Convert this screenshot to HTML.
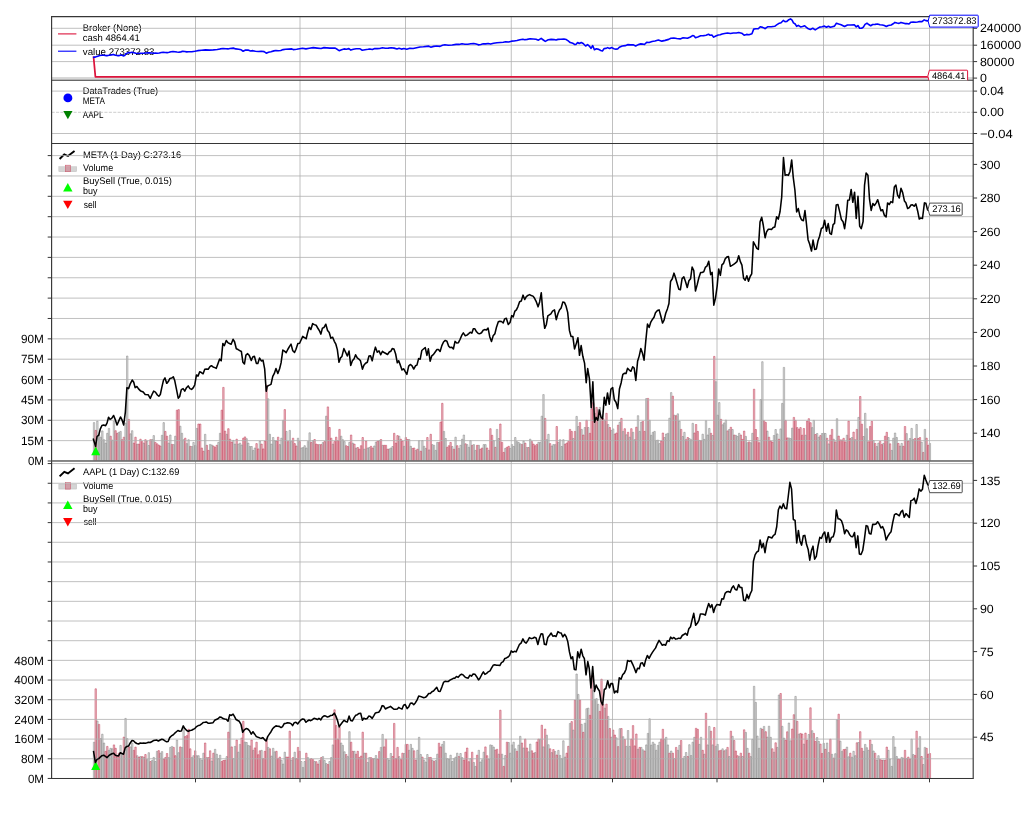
<!DOCTYPE html>
<html><head><meta charset="utf-8"><title>backtrader plot</title>
<style>html,body{margin:0;padding:0;background:#fff;width:1024px;height:819px;overflow:hidden}svg{will-change:transform}svg text{font-family:"Liberation Sans",sans-serif;text-rendering:geometricPrecision}</style></head>
<body>
<svg width="1024" height="819" viewBox="0 0 1024 819" style="display:block">
<rect width="1024" height="819" fill="#fff"/>
<defs>
<clipPath id="c0"><rect x="51.6" y="16.6" width="921.6" height="63.6"/></clipPath>
<clipPath id="c1"><rect x="51.6" y="80.2" width="921.6" height="63.3"/></clipPath>
<clipPath id="c2"><rect x="51.6" y="143.5" width="921.6" height="317.5"/></clipPath>
<clipPath id="c3"><rect x="51.6" y="461.0" width="921.6" height="317.45000000000005"/></clipPath>
</defs>
<g clip-path="url(#c2)">
<path d="M93.35 461.0V422.6H94.75V461.0ZM96.67 461.0V421.1H98.07V461.0ZM99.98 461.0V437.2H101.38V461.0ZM103.30 461.0V439.7H104.70V461.0ZM106.62 461.0V433.3H108.02V461.0ZM113.25 461.0V421.1H114.65V461.0ZM119.88 461.0V431.4H121.28V461.0ZM126.52 461.0V356.0H127.92V461.0ZM129.83 461.0V433.8H131.23V461.0ZM136.47 461.0V444.1H137.87V461.0ZM143.10 461.0V443.1H144.50V461.0ZM146.42 461.0V441.1H147.82V461.0ZM153.05 461.0V435.6H154.45V461.0ZM163.00 461.0V422.6H164.40V461.0ZM169.64 461.0V435.0H171.04V461.0ZM172.95 461.0V444.6H174.35V461.0ZM179.59 461.0V426.2H180.99V461.0ZM182.90 461.0V439.7H184.30V461.0ZM186.22 461.0V443.6H187.62V461.0ZM192.85 461.0V442.4H194.25V461.0ZM196.17 461.0V428.4H197.57V461.0ZM209.44 461.0V444.4H210.84V461.0ZM219.39 461.0V433.3H220.79V461.0ZM226.02 461.0V434.3H227.42V461.0ZM232.66 461.0V440.4H234.06V461.0ZM239.29 461.0V443.1H240.69V461.0ZM245.92 461.0V438.7H247.32V461.0ZM249.24 461.0V446.5H250.64V461.0ZM252.56 461.0V450.4H253.96V461.0ZM259.19 461.0V441.1H260.59V461.0ZM269.14 461.0V434.3H270.54V461.0ZM272.46 461.0V437.5H273.86V461.0ZM279.09 461.0V444.6H280.49V461.0ZM282.41 461.0V420.3H283.81V461.0ZM285.72 461.0V431.4H287.12V461.0ZM289.04 461.0V430.4H290.44V461.0ZM302.31 461.0V447.5H303.71V461.0ZM305.63 461.0V448.0H307.03V461.0ZM308.94 461.0V432.8H310.34V461.0ZM312.26 461.0V440.6H313.66V461.0ZM318.89 461.0V444.6H320.29V461.0ZM322.21 461.0V442.6H323.61V461.0ZM325.53 461.0V416.2H326.93V461.0ZM332.16 461.0V444.1H333.56V461.0ZM342.11 461.0V439.7H343.51V461.0ZM348.74 461.0V442.4H350.14V461.0ZM352.06 461.0V443.1H353.46V461.0ZM355.38 461.0V448.0H356.78V461.0ZM368.64 461.0V447.5H370.04V461.0ZM375.28 461.0V442.1H376.68V461.0ZM378.59 461.0V440.6H379.99V461.0ZM381.91 461.0V445.3H383.31V461.0ZM388.55 461.0V448.9H389.95V461.0ZM391.86 461.0V446.5H393.26V461.0ZM398.50 461.0V436.2H399.90V461.0ZM408.45 461.0V439.5H409.85V461.0ZM415.08 461.0V450.4H416.48V461.0ZM418.40 461.0V440.6H419.80V461.0ZM421.71 461.0V440.6H423.11V461.0ZM425.03 461.0V448.4H426.43V461.0ZM428.35 461.0V449.9H429.75V461.0ZM431.66 461.0V444.6H433.06V461.0ZM434.98 461.0V450.4H436.38V461.0ZM444.93 461.0V438.5H446.33V461.0ZM451.56 461.0V446.5H452.96V461.0ZM454.88 461.0V437.2H456.28V461.0ZM458.20 461.0V448.4H459.60V461.0ZM461.51 461.0V439.2H462.91V461.0ZM468.15 461.0V447.3H469.55V461.0ZM474.78 461.0V450.4H476.18V461.0ZM478.10 461.0V445.3H479.50V461.0ZM484.73 461.0V444.6H486.13V461.0ZM488.05 461.0V450.4H489.45V461.0ZM498.00 461.0V438.5H499.40V461.0ZM504.63 461.0V448.4H506.03V461.0ZM511.27 461.0V444.6H512.67V461.0ZM514.58 461.0V437.5H515.98V461.0ZM517.90 461.0V442.4H519.30V461.0ZM537.80 461.0V442.4H539.20V461.0ZM541.12 461.0V416.2H542.52V461.0ZM547.75 461.0V434.3H549.15V461.0ZM551.07 461.0V446.0H552.47V461.0ZM554.39 461.0V444.6H555.79V461.0ZM557.70 461.0V442.4H559.10V461.0ZM561.02 461.0V446.5H562.42V461.0ZM577.60 461.0V426.5H579.00V461.0ZM580.92 461.0V429.4H582.32V461.0ZM584.24 461.0V427.5H585.64V461.0ZM587.55 461.0V427.5H588.95V461.0ZM594.19 461.0V413.3H595.59V461.0ZM597.50 461.0V409.6H598.90V461.0ZM604.14 461.0V420.3H605.54V461.0ZM607.45 461.0V424.5H608.85V461.0ZM610.77 461.0V430.4H612.17V461.0ZM633.99 461.0V439.7H635.39V461.0ZM637.31 461.0V415.7H638.71V461.0ZM640.62 461.0V422.1H642.02V461.0ZM650.57 461.0V435.3H651.97V461.0ZM653.89 461.0V431.4H655.29V461.0ZM657.21 461.0V440.1H658.61V461.0ZM663.84 461.0V437.5H665.24V461.0ZM667.16 461.0V433.3H668.56V461.0ZM670.47 461.0V392.6H671.87V461.0ZM673.79 461.0V415.2H675.19V461.0ZM677.11 461.0V413.8H678.51V461.0ZM683.74 461.0V432.3H685.14V461.0ZM690.37 461.0V439.7H691.77V461.0ZM703.64 461.0V439.4H705.04V461.0ZM706.96 461.0V435.0H708.36V461.0ZM716.91 461.0V415.2H718.31V461.0ZM723.54 461.0V422.9H724.94V461.0ZM736.81 461.0V436.4H738.21V461.0ZM746.76 461.0V442.7H748.16V461.0ZM750.08 461.0V442.7H751.48V461.0ZM760.03 461.0V399.5H761.43V461.0ZM766.66 461.0V431.1H768.06V461.0ZM773.29 461.0V435.5H774.69V461.0ZM776.61 461.0V433.9H778.01V461.0ZM779.93 461.0V428.9H781.33V461.0ZM783.24 461.0V367.4H784.64V461.0ZM789.88 461.0V438.6H791.28V461.0ZM813.10 461.0V420.4H814.50V461.0ZM816.41 461.0V433.5H817.81V461.0ZM823.05 461.0V433.2H824.45V461.0ZM833.00 461.0V439.2H834.40V461.0ZM836.31 461.0V418.7H837.71V461.0ZM846.26 461.0V435.2H847.66V461.0ZM862.85 461.0V436.5H864.25V461.0ZM866.16 461.0V428.7H867.56V461.0ZM872.80 461.0V440.6H874.20V461.0ZM876.11 461.0V446.5H877.51V461.0ZM882.75 461.0V443.4H884.15V461.0ZM892.70 461.0V438.2H894.10V461.0ZM896.02 461.0V437.5H897.42V461.0ZM899.33 461.0V446.0H900.73V461.0ZM905.97 461.0V433.6H907.37V461.0ZM909.28 461.0V438.5H910.68V461.0ZM912.60 461.0V439.5H914.00V461.0ZM915.92 461.0V424.5H917.32V461.0ZM929.18 461.0V443.4H930.58V461.0Z" fill="#aaaaaa" fill-opacity="0.38" stroke="#858585" stroke-width="0.52" stroke-opacity="1"/>
<path d="M109.93 461.0V436.2H111.33V461.0ZM116.57 461.0V433.3H117.97V461.0ZM123.20 461.0V437.2H124.60V461.0ZM133.15 461.0V443.1H134.55V461.0ZM139.79 461.0V439.2H141.19V461.0ZM149.74 461.0V439.7H151.14V461.0ZM156.37 461.0V443.8H157.77V461.0ZM159.69 461.0V446.0H161.09V461.0ZM166.32 461.0V436.2H167.72V461.0ZM176.27 461.0V410.2H177.67V461.0ZM189.54 461.0V446.3H190.94V461.0ZM199.49 461.0V424.0H200.89V461.0ZM202.80 461.0V451.2H204.20V461.0ZM206.12 461.0V445.3H207.52V461.0ZM212.75 461.0V446.0H214.15V461.0ZM216.07 461.0V445.3H217.47V461.0ZM222.71 461.0V387.4H224.11V461.0ZM229.34 461.0V439.2H230.74V461.0ZM235.97 461.0V439.2H237.37V461.0ZM242.61 461.0V438.2H244.01V461.0ZM255.87 461.0V443.6H257.27V461.0ZM262.51 461.0V448.9H263.91V461.0ZM265.82 461.0V385.0H267.22V461.0ZM275.77 461.0V441.1H277.17V461.0ZM292.36 461.0V438.2H293.76V461.0ZM295.67 461.0V446.0H297.07V461.0ZM298.99 461.0V441.6H300.39V461.0ZM315.58 461.0V444.1H316.98V461.0ZM328.84 461.0V427.5H330.24V461.0ZM335.48 461.0V437.2H336.88V461.0ZM338.79 461.0V429.4H340.19V461.0ZM345.43 461.0V445.7H346.83V461.0ZM358.69 461.0V449.2H360.09V461.0ZM362.01 461.0V437.5H363.41V461.0ZM365.33 461.0V441.1H366.73V461.0ZM371.96 461.0V448.0H373.36V461.0ZM385.23 461.0V445.3H386.63V461.0ZM395.18 461.0V443.1H396.58V461.0ZM401.81 461.0V441.1H403.21V461.0ZM405.13 461.0V437.5H406.53V461.0ZM411.76 461.0V448.4H413.16V461.0ZM438.30 461.0V442.4H439.70V461.0ZM441.61 461.0V403.3H443.01V461.0ZM448.25 461.0V445.7H449.65V461.0ZM464.83 461.0V443.8H466.23V461.0ZM471.47 461.0V445.3H472.87V461.0ZM481.42 461.0V448.0H482.82V461.0ZM491.37 461.0V435.3H492.77V461.0ZM494.68 461.0V447.3H496.08V461.0ZM501.32 461.0V442.4H502.72V461.0ZM507.95 461.0V446.3H509.35V461.0ZM521.22 461.0V444.4H522.62V461.0ZM524.53 461.0V443.1H525.93V461.0ZM527.85 461.0V447.5H529.25V461.0ZM531.17 461.0V441.6H532.57V461.0ZM534.48 461.0V445.7H535.88V461.0ZM544.43 461.0V418.4H545.83V461.0ZM564.34 461.0V444.1H565.74V461.0ZM567.65 461.0V441.6H569.05V461.0ZM570.97 461.0V431.4H572.37V461.0ZM574.29 461.0V431.4H575.69V461.0ZM590.87 461.0V408.9H592.27V461.0ZM600.82 461.0V417.7H602.22V461.0ZM614.09 461.0V434.0H615.49V461.0ZM617.40 461.0V425.2H618.80V461.0ZM620.72 461.0V418.4H622.12V461.0ZM624.04 461.0V428.7H625.44V461.0ZM627.35 461.0V432.3H628.75V461.0ZM630.67 461.0V428.7H632.07V461.0ZM643.94 461.0V431.4H645.34V461.0ZM647.26 461.0V398.4H648.66V461.0ZM660.52 461.0V441.1H661.92V461.0ZM680.42 461.0V429.4H681.82V461.0ZM687.06 461.0V437.5H688.46V461.0ZM693.69 461.0V433.0H695.09V461.0ZM697.01 461.0V431.4H698.41V461.0ZM700.32 461.0V440.6H701.72V461.0ZM710.27 461.0V433.3H711.67V461.0ZM713.59 461.0V356.4H714.99V461.0ZM720.23 461.0V419.3H721.63V461.0ZM726.86 461.0V430.9H728.26V461.0ZM730.18 461.0V427.3H731.58V461.0ZM733.49 461.0V435.0H734.89V461.0ZM740.13 461.0V435.0H741.53V461.0ZM743.44 461.0V431.1H744.84V461.0ZM753.39 461.0V389.2H754.79V461.0ZM756.71 461.0V437.5H758.11V461.0ZM763.34 461.0V420.7H764.74V461.0ZM769.98 461.0V441.0H771.38V461.0ZM786.56 461.0V437.9H787.96V461.0ZM793.19 461.0V417.4H794.59V461.0ZM796.51 461.0V427.6H797.91V461.0ZM799.83 461.0V427.6H801.23V461.0ZM803.15 461.0V428.5H804.55V461.0ZM806.46 461.0V421.1H807.86V461.0ZM809.78 461.0V422.7H811.18V461.0ZM819.73 461.0V435.6H821.13V461.0ZM826.36 461.0V438.3H827.76V461.0ZM829.68 461.0V435.2H831.08V461.0ZM839.63 461.0V439.9H841.03V461.0ZM842.95 461.0V438.3H844.35V461.0ZM849.58 461.0V438.6H850.98V461.0ZM852.90 461.0V432.1H854.30V461.0ZM856.21 461.0V429.4H857.61V461.0ZM859.53 461.0V396.5H860.93V461.0ZM869.48 461.0V426.5H870.88V461.0ZM879.43 461.0V441.4H880.83V461.0ZM886.07 461.0V432.3H887.47V461.0ZM889.38 461.0V443.8H890.78V461.0ZM902.65 461.0V446.3H904.05V461.0ZM919.23 461.0V437.5H920.63V461.0ZM922.55 461.0V452.4H923.95V461.0ZM925.87 461.0V438.2H927.27V461.0Z" fill="#cc6073" fill-opacity="0.38" stroke="#c43e58" stroke-width="0.52" stroke-opacity="1"/>
<path d="M98.33 461.0V434.8H99.73V461.0ZM101.64 461.0V430.9H103.04V461.0ZM104.96 461.0V443.1H106.36V461.0ZM108.28 461.0V428.4H109.68V461.0ZM111.59 461.0V440.1H112.99V461.0ZM118.23 461.0V432.3H119.63V461.0ZM124.86 461.0V423.1H126.26V461.0ZM131.49 461.0V430.7H132.89V461.0ZM148.08 461.0V445.5H149.48V461.0ZM151.39 461.0V439.5H152.79V461.0ZM161.34 461.0V435.3H162.74V461.0ZM167.98 461.0V443.1H169.38V461.0ZM174.61 461.0V436.2H176.01V461.0ZM181.25 461.0V433.3H182.65V461.0ZM187.88 461.0V439.7H189.28V461.0ZM191.20 461.0V446.5H192.60V461.0ZM194.51 461.0V445.5H195.91V461.0ZM204.46 461.0V434.3H205.86V461.0ZM211.10 461.0V445.0H212.50V461.0ZM217.73 461.0V442.4H219.13V461.0ZM234.31 461.0V444.1H235.71V461.0ZM237.63 461.0V444.1H239.03V461.0ZM240.95 461.0V445.0H242.35V461.0ZM247.58 461.0V443.1H248.98V461.0ZM250.90 461.0V446.5H252.30V461.0ZM254.21 461.0V448.0H255.61V461.0ZM267.48 461.0V398.8H268.88V461.0ZM270.80 461.0V444.1H272.20V461.0ZM274.12 461.0V440.6H275.52V461.0ZM280.75 461.0V438.2H282.15V461.0ZM290.70 461.0V441.6H292.10V461.0ZM297.33 461.0V438.2H298.73V461.0ZM300.65 461.0V448.0H302.05V461.0ZM303.97 461.0V445.7H305.37V461.0ZM307.28 461.0V441.6H308.68V461.0ZM340.45 461.0V436.2H341.85V461.0ZM343.77 461.0V441.6H345.17V461.0ZM363.67 461.0V449.2H365.07V461.0ZM366.99 461.0V448.0H368.39V461.0ZM373.62 461.0V446.0H375.02V461.0ZM390.20 461.0V448.0H391.60V461.0ZM403.47 461.0V446.3H404.87V461.0ZM410.10 461.0V446.3H411.50V461.0ZM423.37 461.0V446.3H424.77V461.0ZM433.32 461.0V445.3H434.72V461.0ZM436.64 461.0V442.4H438.04V461.0ZM443.27 461.0V431.4H444.67V461.0ZM459.86 461.0V445.3H461.26V461.0ZM463.17 461.0V435.0H464.57V461.0ZM466.49 461.0V444.6H467.89V461.0ZM469.81 461.0V440.6H471.21V461.0ZM473.12 461.0V444.6H474.52V461.0ZM483.07 461.0V444.6H484.47V461.0ZM493.02 461.0V440.6H494.42V461.0ZM496.34 461.0V429.4H497.74V461.0ZM509.61 461.0V448.4H511.01V461.0ZM512.93 461.0V446.5H514.33V461.0ZM516.24 461.0V441.6H517.64V461.0ZM519.56 461.0V443.8H520.96V461.0ZM522.88 461.0V441.1H524.28V461.0ZM526.19 461.0V447.5H527.59V461.0ZM529.51 461.0V439.2H530.91V461.0ZM539.46 461.0V442.4H540.86V461.0ZM542.78 461.0V394.6H544.18V461.0ZM546.09 461.0V439.7H547.49V461.0ZM552.73 461.0V444.6H554.13V461.0ZM559.36 461.0V439.7H560.76V461.0ZM562.68 461.0V439.7H564.08V461.0ZM572.63 461.0V438.5H574.03V461.0ZM575.94 461.0V416.4H577.34V461.0ZM599.16 461.0V407.4H600.56V461.0ZM612.43 461.0V428.9H613.83V461.0ZM619.06 461.0V422.3H620.46V461.0ZM622.38 461.0V431.4H623.78V461.0ZM625.70 461.0V434.8H627.10V461.0ZM629.01 461.0V437.2H630.41V461.0ZM632.33 461.0V432.3H633.73V461.0ZM638.96 461.0V431.4H640.36V461.0ZM645.60 461.0V398.6H647.00V461.0ZM648.91 461.0V420.3H650.31V461.0ZM652.23 461.0V432.3H653.63V461.0ZM655.55 461.0V440.4H656.95V461.0ZM658.86 461.0V443.6H660.26V461.0ZM665.50 461.0V434.0H666.90V461.0ZM668.81 461.0V418.2H670.21V461.0ZM678.77 461.0V421.1H680.17V461.0ZM682.08 461.0V436.5H683.48V461.0ZM688.72 461.0V438.5H690.12V461.0ZM692.03 461.0V423.3H693.43V461.0ZM698.67 461.0V440.4H700.07V461.0ZM701.98 461.0V434.2H703.38V461.0ZM705.30 461.0V420.7H706.70V461.0ZM708.62 461.0V428.4H710.02V461.0ZM711.93 461.0V435.5H713.33V461.0ZM715.25 461.0V381.7H716.65V461.0ZM718.57 461.0V402.6H719.97V461.0ZM721.88 461.0V424.8H723.28V461.0ZM725.20 461.0V420.1H726.60V461.0ZM728.52 461.0V429.5H729.92V461.0ZM731.83 461.0V429.5H733.23V461.0ZM735.15 461.0V435.3H736.55V461.0ZM738.47 461.0V433.3H739.87V461.0ZM745.10 461.0V436.4H746.50V461.0ZM751.73 461.0V433.3H753.13V461.0ZM761.69 461.0V361.7H763.09V461.0ZM774.95 461.0V429.5H776.35V461.0ZM781.59 461.0V403.4H782.99V461.0ZM788.22 461.0V437.9H789.62V461.0ZM791.54 461.0V428.1H792.94V461.0ZM804.80 461.0V435.2H806.20V461.0ZM811.44 461.0V427.6H812.84V461.0ZM818.07 461.0V437.2H819.47V461.0ZM821.39 461.0V433.5H822.79V461.0ZM824.70 461.0V433.5H826.10V461.0ZM828.02 461.0V443.9H829.42V461.0ZM851.24 461.0V437.5H852.64V461.0ZM854.56 461.0V439.7H855.96V461.0ZM857.87 461.0V417.4H859.27V461.0ZM864.51 461.0V413.3H865.91V461.0ZM877.77 461.0V443.1H879.17V461.0ZM887.72 461.0V437.5H889.12V461.0ZM891.04 461.0V450.4H892.44V461.0ZM894.36 461.0V433.0H895.76V461.0ZM900.99 461.0V443.4H902.39V461.0ZM910.94 461.0V428.4H912.34V461.0ZM920.89 461.0V442.1H922.29V461.0ZM924.21 461.0V429.4H925.61V461.0Z" fill="#aaaaaa" fill-opacity="0.38" stroke="#858585" stroke-width="0.52" stroke-opacity="1"/>
<path d="M95.01 461.0V430.4H96.41V461.0ZM114.91 461.0V430.7H116.31V461.0ZM121.54 461.0V439.7H122.94V461.0ZM128.18 461.0V419.4H129.58V461.0ZM134.81 461.0V437.2H136.21V461.0ZM138.13 461.0V444.1H139.53V461.0ZM141.44 461.0V441.6H142.84V461.0ZM144.76 461.0V439.7H146.16V461.0ZM154.71 461.0V442.4H156.11V461.0ZM158.03 461.0V445.0H159.43V461.0ZM164.66 461.0V431.4H166.06V461.0ZM171.29 461.0V444.4H172.69V461.0ZM177.93 461.0V409.6H179.33V461.0ZM184.56 461.0V438.2H185.96V461.0ZM197.83 461.0V424.0H199.23V461.0ZM201.15 461.0V448.0H202.55V461.0ZM207.78 461.0V450.4H209.18V461.0ZM214.41 461.0V447.3H215.81V461.0ZM221.05 461.0V410.2H222.45V461.0ZM224.36 461.0V431.1H225.76V461.0ZM227.68 461.0V428.7H229.08V461.0ZM231.00 461.0V442.1H232.40V461.0ZM244.26 461.0V436.9H245.66V461.0ZM257.53 461.0V448.9H258.93V461.0ZM260.85 461.0V444.1H262.25V461.0ZM264.17 461.0V441.1H265.57V461.0ZM277.43 461.0V437.2H278.83V461.0ZM284.07 461.0V409.6H285.47V461.0ZM287.38 461.0V441.6H288.78V461.0ZM294.02 461.0V443.6H295.42V461.0ZM310.60 461.0V442.4H312.00V461.0ZM313.92 461.0V439.5H315.32V461.0ZM317.23 461.0V444.6H318.63V461.0ZM320.55 461.0V444.6H321.95V461.0ZM323.87 461.0V441.6H325.27V461.0ZM327.18 461.0V406.9H328.58V461.0ZM330.50 461.0V438.2H331.90V461.0ZM333.82 461.0V441.6H335.22V461.0ZM337.13 461.0V440.6H338.53V461.0ZM347.09 461.0V446.5H348.49V461.0ZM350.40 461.0V435.0H351.80V461.0ZM353.72 461.0V444.1H355.12V461.0ZM357.04 461.0V447.5H358.44V461.0ZM360.35 461.0V445.7H361.75V461.0ZM370.30 461.0V446.3H371.70V461.0ZM376.94 461.0V441.1H378.34V461.0ZM380.25 461.0V439.5H381.65V461.0ZM383.57 461.0V445.3H384.97V461.0ZM386.89 461.0V449.2H388.29V461.0ZM393.52 461.0V433.3H394.92V461.0ZM396.84 461.0V435.6H398.24V461.0ZM400.15 461.0V439.2H401.55V461.0ZM406.79 461.0V439.5H408.19V461.0ZM413.42 461.0V448.0H414.82V461.0ZM416.74 461.0V449.2H418.14V461.0ZM420.05 461.0V451.2H421.45V461.0ZM426.69 461.0V437.5H428.09V461.0ZM430.01 461.0V434.3H431.41V461.0ZM439.96 461.0V422.1H441.36V461.0ZM446.59 461.0V447.3H447.99V461.0ZM449.91 461.0V442.4H451.31V461.0ZM453.22 461.0V449.2H454.62V461.0ZM456.54 461.0V445.7H457.94V461.0ZM476.44 461.0V445.3H477.84V461.0ZM479.76 461.0V449.2H481.16V461.0ZM486.39 461.0V448.0H487.79V461.0ZM489.71 461.0V428.7H491.11V461.0ZM499.66 461.0V424.0H501.06V461.0ZM502.97 461.0V452.4H504.37V461.0ZM506.29 461.0V447.3H507.69V461.0ZM532.83 461.0V444.1H534.23V461.0ZM536.14 461.0V444.4H537.54V461.0ZM549.41 461.0V443.6H550.81V461.0ZM556.04 461.0V426.5H557.44V461.0ZM565.99 461.0V443.1H567.39V461.0ZM569.31 461.0V429.4H570.71V461.0ZM579.26 461.0V422.6H580.66V461.0ZM582.58 461.0V435.0H583.98V461.0ZM585.89 461.0V420.3H587.29V461.0ZM589.21 461.0V433.3H590.61V461.0ZM592.53 461.0V402.6H593.93V461.0ZM595.85 461.0V407.4H597.25V461.0ZM602.48 461.0V418.7H603.88V461.0ZM605.80 461.0V413.3H607.20V461.0ZM609.11 461.0V427.5H610.51V461.0ZM615.75 461.0V433.0H617.15V461.0ZM635.65 461.0V427.2H637.05V461.0ZM642.28 461.0V421.3H643.68V461.0ZM662.18 461.0V433.0H663.58V461.0ZM672.13 461.0V396.2H673.53V461.0ZM675.45 461.0V415.7H676.85V461.0ZM685.40 461.0V439.7H686.80V461.0ZM695.35 461.0V424.5H696.75V461.0ZM741.78 461.0V439.4H743.18V461.0ZM748.42 461.0V441.9H749.82V461.0ZM755.05 461.0V429.5H756.45V461.0ZM758.37 461.0V442.7H759.77V461.0ZM765.00 461.0V422.4H766.40V461.0ZM768.32 461.0V437.2H769.72V461.0ZM771.64 461.0V442.1H773.04V461.0ZM778.27 461.0V439.2H779.67V461.0ZM784.90 461.0V420.4H786.30V461.0ZM794.85 461.0V420.4H796.25V461.0ZM798.17 461.0V429.2H799.57V461.0ZM801.49 461.0V435.2H802.89V461.0ZM808.12 461.0V418.7H809.52V461.0ZM814.75 461.0V434.5H816.15V461.0ZM831.34 461.0V429.4H832.74V461.0ZM834.65 461.0V441.9H836.05V461.0ZM837.97 461.0V436.1H839.37V461.0ZM841.29 461.0V439.9H842.69V461.0ZM844.61 461.0V441.9H846.01V461.0ZM847.92 461.0V421.1H849.32V461.0ZM861.19 461.0V424.2H862.59V461.0ZM867.82 461.0V441.8H869.22V461.0ZM871.14 461.0V421.3H872.54V461.0ZM874.46 461.0V443.4H875.86V461.0ZM881.09 461.0V444.6H882.49V461.0ZM884.41 461.0V436.2H885.81V461.0ZM897.67 461.0V443.4H899.07V461.0ZM904.31 461.0V426.5H905.71V461.0ZM907.62 461.0V441.1H909.02V461.0ZM914.26 461.0V438.5H915.66V461.0ZM917.57 461.0V438.5H918.97V461.0ZM927.53 461.0V445.3H928.93V461.0Z" fill="#cc6073" fill-opacity="0.38" stroke="#c43e58" stroke-width="0.52" stroke-opacity="1"/>
</g>
<g clip-path="url(#c3)">
<path d="M93.35 778.45V742.2H94.75V778.45ZM96.67 778.45V721.0H98.07V778.45ZM99.98 778.45V738.6H101.38V778.45ZM103.30 778.45V743.0H104.70V778.45ZM109.93 778.45V748.3H111.33V778.45ZM119.88 778.45V745.4H121.28V778.45ZM126.52 778.45V738.6H127.92V778.45ZM129.83 778.45V746.9H131.23V778.45ZM136.47 778.45V755.7H137.87V778.45ZM139.79 778.45V756.6H141.19V778.45ZM143.10 778.45V757.1H144.50V778.45ZM146.42 778.45V759.6H147.82V778.45ZM153.05 778.45V757.4H154.45V778.45ZM156.37 778.45V751.3H157.77V778.45ZM159.69 778.45V753.2H161.09V778.45ZM169.64 778.45V747.4H171.04V778.45ZM176.27 778.45V740.0H177.67V778.45ZM182.90 778.45V728.3H184.30V778.45ZM192.85 778.45V755.7H194.25V778.45ZM196.17 778.45V755.7H197.57V778.45ZM199.49 778.45V758.6H200.89V778.45ZM202.80 778.45V753.2H204.20V778.45ZM206.12 778.45V757.6H207.52V778.45ZM216.07 778.45V754.2H217.47V778.45ZM219.39 778.45V755.2H220.79V778.45ZM226.02 778.45V756.6H227.42V778.45ZM229.34 778.45V718.5H230.74V778.45ZM232.66 778.45V758.6H234.06V778.45ZM239.29 778.45V744.4H240.69V778.45ZM245.92 778.45V742.5H247.32V778.45ZM249.24 778.45V745.9H250.64V778.45ZM252.56 778.45V750.3H253.96V778.45ZM272.46 778.45V748.3H273.86V778.45ZM282.41 778.45V764.0H283.81V778.45ZM302.31 778.45V767.4H303.71V778.45ZM308.94 778.45V759.6H310.34V778.45ZM318.89 778.45V760.5H320.29V778.45ZM322.21 778.45V756.6H323.61V778.45ZM325.53 778.45V763.5H326.93V778.45ZM328.84 778.45V761.5H330.24V778.45ZM332.16 778.45V744.9H333.56V778.45ZM342.11 778.45V745.4H343.51V778.45ZM348.74 778.45V731.7H350.14V778.45ZM368.64 778.45V757.6H370.04V778.45ZM375.28 778.45V755.5H376.68V778.45ZM381.91 778.45V734.4H383.31V778.45ZM388.55 778.45V760.1H389.95V778.45ZM398.50 778.45V756.6H399.90V778.45ZM408.45 778.45V750.3H409.85V778.45ZM411.76 778.45V748.3H413.16V778.45ZM418.40 778.45V737.3H419.80V778.45ZM425.03 778.45V762.0H426.43V778.45ZM431.66 778.45V760.1H433.06V778.45ZM434.98 778.45V760.5H436.38V778.45ZM441.61 778.45V744.4H443.01V778.45ZM444.93 778.45V753.2H446.33V778.45ZM448.25 778.45V759.1H449.65V778.45ZM451.56 778.45V761.5H452.96V778.45ZM454.88 778.45V757.1H456.28V778.45ZM461.51 778.45V757.6H462.91V778.45ZM474.78 778.45V766.4H476.18V778.45ZM478.10 778.45V750.3H479.50V778.45ZM481.42 778.45V759.8H482.82V778.45ZM488.05 778.45V759.1H489.45V778.45ZM491.37 778.45V745.4H492.77V778.45ZM498.00 778.45V754.2H499.40V778.45ZM501.32 778.45V754.2H502.72V778.45ZM504.63 778.45V755.5H506.03V778.45ZM507.95 778.45V742.5H509.35V778.45ZM511.27 778.45V744.9H512.67V778.45ZM514.58 778.45V748.8H515.98V778.45ZM517.90 778.45V745.1H519.30V778.45ZM527.85 778.45V751.8H529.25V778.45ZM534.48 778.45V752.5H535.88V778.45ZM547.75 778.45V744.7H549.15V778.45ZM551.07 778.45V752.6H552.47V778.45ZM554.39 778.45V751.5H555.79V778.45ZM557.70 778.45V750.4H559.10V778.45ZM561.02 778.45V758.7H562.42V778.45ZM564.34 778.45V757.0H565.74V778.45ZM577.60 778.45V694.4H579.00V778.45ZM580.92 778.45V724.3H582.32V778.45ZM584.24 778.45V723.2H585.64V778.45ZM587.55 778.45V708.1H588.95V778.45ZM594.19 778.45V699.3H595.59V778.45ZM597.50 778.45V704.3H598.90V778.45ZM604.14 778.45V708.1H605.54V778.45ZM607.45 778.45V716.4H608.85V778.45ZM610.77 778.45V737.2H612.17V778.45ZM627.35 778.45V730.5H628.75V778.45ZM637.31 778.45V749.3H638.71V778.45ZM640.62 778.45V747.4H642.02V778.45ZM647.26 778.45V733.4H648.66V778.45ZM650.57 778.45V745.1H651.97V778.45ZM653.89 778.45V744.0H655.29V778.45ZM657.21 778.45V745.4H658.61V778.45ZM663.84 778.45V739.1H665.24V778.45ZM667.16 778.45V744.9H668.56V778.45ZM670.47 778.45V751.0H671.87V778.45ZM673.79 778.45V758.6H675.19V778.45ZM677.11 778.45V750.3H678.51V778.45ZM683.74 778.45V756.5H685.14V778.45ZM690.37 778.45V755.5H691.77V778.45ZM693.69 778.45V737.3H695.09V778.45ZM700.32 778.45V737.3H701.72V778.45ZM703.64 778.45V754.2H705.04V778.45ZM706.96 778.45V744.9H708.36V778.45ZM716.91 778.45V744.4H718.31V778.45ZM746.76 778.45V748.3H748.16V778.45ZM750.08 778.45V756.6H751.48V778.45ZM753.39 778.45V686.3H754.79V778.45ZM756.71 778.45V736.1H758.11V778.45ZM760.03 778.45V728.3H761.43V778.45ZM763.34 778.45V726.4H764.74V778.45ZM766.66 778.45V737.1H768.06V778.45ZM769.98 778.45V737.3H771.38V778.45ZM773.29 778.45V752.2H774.69V778.45ZM776.61 778.45V747.4H778.01V778.45ZM783.24 778.45V738.1H784.64V778.45ZM789.88 778.45V740.8H791.28V778.45ZM803.15 778.45V744.1H804.55V778.45ZM816.41 778.45V737.5H817.81V778.45ZM823.05 778.45V743.3H824.45V778.45ZM826.36 778.45V743.0H827.76V778.45ZM836.31 778.45V719.7H837.71V778.45ZM839.63 778.45V741.1H841.03V778.45ZM846.26 778.45V747.1H847.66V778.45ZM852.90 778.45V751.3H854.30V778.45ZM862.85 778.45V751.3H864.25V778.45ZM866.16 778.45V747.7H867.56V778.45ZM872.80 778.45V751.0H874.20V778.45ZM876.11 778.45V760.1H877.51V778.45ZM882.75 778.45V760.1H884.15V778.45ZM889.38 778.45V759.1H890.78V778.45ZM892.70 778.45V736.6H894.10V778.45ZM896.02 778.45V756.5H897.42V778.45ZM902.65 778.45V758.1H904.05V778.45ZM905.97 778.45V758.6H907.37V778.45ZM912.60 778.45V754.5H914.00V778.45ZM919.23 778.45V736.6H920.63V778.45ZM922.55 778.45V764.5H923.95V778.45Z" fill="#aaaaaa" fill-opacity="0.38" stroke="#858585" stroke-width="0.52" stroke-opacity="1"/>
<path d="M106.62 778.45V746.4H108.02V778.45ZM113.25 778.45V744.9H114.65V778.45ZM116.57 778.45V755.7H117.97V778.45ZM123.20 778.45V737.1H124.60V778.45ZM133.15 778.45V750.3H134.55V778.45ZM149.74 778.45V761.5H151.14V778.45ZM163.00 778.45V759.1H164.40V778.45ZM166.32 778.45V753.5H167.72V778.45ZM172.95 778.45V747.4H174.35V778.45ZM179.59 778.45V746.9H180.99V778.45ZM186.22 778.45V735.6H187.62V778.45ZM189.54 778.45V748.8H190.94V778.45ZM209.44 778.45V750.8H210.84V778.45ZM212.75 778.45V753.2H214.15V778.45ZM222.71 778.45V760.5H224.11V778.45ZM235.97 778.45V740.0H237.37V778.45ZM242.61 778.45V721.3H244.01V778.45ZM255.87 778.45V742.2H257.27V778.45ZM259.19 778.45V750.8H260.59V778.45ZM262.51 778.45V758.6H263.91V778.45ZM265.82 778.45V739.1H267.22V778.45ZM269.14 778.45V748.8H270.54V778.45ZM275.77 778.45V751.3H277.17V778.45ZM279.09 778.45V757.1H280.49V778.45ZM285.72 778.45V757.1H287.12V778.45ZM289.04 778.45V731.2H290.44V778.45ZM292.36 778.45V757.6H293.76V778.45ZM295.67 778.45V758.6H297.07V778.45ZM298.99 778.45V751.3H300.39V778.45ZM305.63 778.45V753.2H307.03V778.45ZM312.26 778.45V759.6H313.66V778.45ZM315.58 778.45V761.7H316.98V778.45ZM335.48 778.45V725.4H336.88V778.45ZM338.79 778.45V727.3H340.19V778.45ZM345.43 778.45V754.5H346.83V778.45ZM352.06 778.45V751.3H353.46V778.45ZM355.38 778.45V754.2H356.78V778.45ZM358.69 778.45V757.6H360.09V778.45ZM362.01 778.45V732.2H363.41V778.45ZM365.33 778.45V753.2H366.73V778.45ZM371.96 778.45V758.6H373.36V778.45ZM378.59 778.45V751.6H379.99V778.45ZM385.23 778.45V739.3H386.63V778.45ZM391.86 778.45V756.5H393.26V778.45ZM395.18 778.45V758.6H396.58V778.45ZM401.81 778.45V753.2H403.21V778.45ZM405.13 778.45V744.4H406.53V778.45ZM415.08 778.45V760.1H416.48V778.45ZM421.71 778.45V757.1H423.11V778.45ZM428.35 778.45V757.6H429.75V778.45ZM438.30 778.45V743.2H439.70V778.45ZM458.20 778.45V756.5H459.60V778.45ZM464.83 778.45V752.2H466.23V778.45ZM468.15 778.45V761.7H469.55V778.45ZM471.47 778.45V752.2H472.87V778.45ZM484.73 778.45V746.9H486.13V778.45ZM494.68 778.45V750.0H496.08V778.45ZM521.22 778.45V743.0H522.62V778.45ZM524.53 778.45V739.1H525.93V778.45ZM531.17 778.45V750.8H532.57V778.45ZM537.80 778.45V739.1H539.20V778.45ZM541.12 778.45V725.2H542.52V778.45ZM544.43 778.45V729.1H545.83V778.45ZM567.65 778.45V746.3H569.05V778.45ZM570.97 778.45V721.6H572.37V778.45ZM574.29 778.45V700.1H575.69V778.45ZM590.87 778.45V675.8H592.27V778.45ZM600.82 778.45V679.2H602.22V778.45ZM614.09 778.45V735.0H615.49V778.45ZM617.40 778.45V746.6H618.80V778.45ZM620.72 778.45V728.5H622.12V778.45ZM624.04 778.45V739.5H625.44V778.45ZM630.67 778.45V739.1H632.07V778.45ZM633.99 778.45V745.9H635.39V778.45ZM643.94 778.45V751.0H645.34V778.45ZM660.52 778.45V739.1H661.92V778.45ZM680.42 778.45V740.5H681.82V778.45ZM687.06 778.45V756.5H688.46V778.45ZM697.01 778.45V729.3H698.41V778.45ZM710.27 778.45V731.2H711.67V778.45ZM713.59 778.45V727.5H714.99V778.45ZM720.23 778.45V750.3H721.63V778.45ZM723.54 778.45V750.8H724.94V778.45ZM726.86 778.45V747.4H728.26V778.45ZM730.18 778.45V731.2H731.58V778.45ZM733.49 778.45V740.5H734.89V778.45ZM736.81 778.45V755.7H738.21V778.45ZM740.13 778.45V753.2H741.53V778.45ZM743.44 778.45V729.8H744.84V778.45ZM779.93 778.45V693.5H781.33V778.45ZM786.56 778.45V731.8H787.96V778.45ZM793.19 778.45V714.7H794.59V778.45ZM796.51 778.45V721.3H797.91V778.45ZM799.83 778.45V733.4H801.23V778.45ZM806.46 778.45V740.3H807.86V778.45ZM809.78 778.45V707.8H811.18V778.45ZM813.10 778.45V733.4H814.50V778.45ZM819.73 778.45V744.1H821.13V778.45ZM829.68 778.45V739.2H831.08V778.45ZM833.00 778.45V758.1H834.40V778.45ZM842.95 778.45V749.6H844.35V778.45ZM849.58 778.45V753.2H850.98V778.45ZM856.21 778.45V742.8H857.61V778.45ZM859.53 778.45V731.7H860.93V778.45ZM869.48 778.45V740.0H870.88V778.45ZM879.43 778.45V759.6H880.83V778.45ZM886.07 778.45V747.1H887.47V778.45ZM899.33 778.45V759.4H900.73V778.45ZM909.28 778.45V759.1H910.68V778.45ZM915.92 778.45V731.2H917.32V778.45ZM925.87 778.45V748.3H927.27V778.45ZM929.18 778.45V753.5H930.58V778.45Z" fill="#cc6073" fill-opacity="0.38" stroke="#c43e58" stroke-width="0.52" stroke-opacity="1"/>
<path d="M101.64 778.45V734.2H103.04V778.45ZM108.28 778.45V750.3H109.68V778.45ZM111.59 778.45V748.8H112.99V778.45ZM121.54 778.45V753.2H122.94V778.45ZM124.86 778.45V718.4H126.26V778.45ZM131.49 778.45V743.0H132.89V778.45ZM148.08 778.45V752.7H149.48V778.45ZM151.39 778.45V760.5H152.79V778.45ZM154.71 778.45V761.5H156.11V778.45ZM161.34 778.45V751.6H162.74V778.45ZM167.98 778.45V757.6H169.38V778.45ZM171.29 778.45V746.4H172.69V778.45ZM177.93 778.45V752.7H179.33V778.45ZM181.25 778.45V747.4H182.65V778.45ZM191.20 778.45V757.6H192.60V778.45ZM197.83 778.45V755.7H199.23V778.45ZM201.15 778.45V760.1H202.55V778.45ZM211.10 778.45V761.0H212.50V778.45ZM214.41 778.45V749.3H215.81V778.45ZM217.73 778.45V758.6H219.13V778.45ZM234.31 778.45V746.4H235.71V778.45ZM237.63 778.45V752.2H239.03V778.45ZM244.26 778.45V742.0H245.66V778.45ZM247.58 778.45V745.4H248.98V778.45ZM260.85 778.45V750.3H262.25V778.45ZM267.48 778.45V747.4H268.88V778.45ZM270.80 778.45V756.1H272.20V778.45ZM274.12 778.45V751.8H275.52V778.45ZM280.75 778.45V760.1H282.15V778.45ZM284.07 778.45V752.2H285.47V778.45ZM290.70 778.45V760.1H292.10V778.45ZM294.02 778.45V752.2H295.42V778.45ZM300.65 778.45V761.5H302.05V778.45ZM303.97 778.45V761.5H305.37V778.45ZM307.28 778.45V757.6H308.68V778.45ZM313.92 778.45V761.5H315.32V778.45ZM323.87 778.45V760.5H325.27V778.45ZM330.50 778.45V757.6H331.90V778.45ZM340.45 778.45V743.0H341.85V778.45ZM343.77 778.45V751.8H345.17V778.45ZM347.09 778.45V756.6H348.49V778.45ZM353.72 778.45V751.3H355.12V778.45ZM363.67 778.45V753.2H365.07V778.45ZM366.99 778.45V762.5H368.39V778.45ZM373.62 778.45V758.6H375.02V778.45ZM380.25 778.45V747.4H381.65V778.45ZM386.89 778.45V758.6H388.29V778.45ZM390.20 778.45V753.5H391.60V778.45ZM403.47 778.45V753.5H404.87V778.45ZM410.10 778.45V744.4H411.50V778.45ZM416.74 778.45V750.3H418.14V778.45ZM420.05 778.45V754.5H421.45V778.45ZM423.37 778.45V760.1H424.77V778.45ZM426.69 778.45V754.5H428.09V778.45ZM436.64 778.45V754.2H438.04V778.45ZM443.27 778.45V741.5H444.67V778.45ZM446.59 778.45V758.6H447.99V778.45ZM449.91 778.45V755.2H451.31V778.45ZM453.22 778.45V758.6H454.62V778.45ZM456.54 778.45V753.2H457.94V778.45ZM459.86 778.45V753.5H461.26V778.45ZM469.81 778.45V758.6H471.21V778.45ZM473.12 778.45V762.5H474.52V778.45ZM479.76 778.45V762.0H481.16V778.45ZM483.07 778.45V752.2H484.47V778.45ZM489.71 778.45V744.9H491.11V778.45ZM493.02 778.45V747.1H494.42V778.45ZM509.61 778.45V753.2H511.01V778.45ZM512.93 778.45V742.2H514.33V778.45ZM519.56 778.45V736.3H520.96V778.45ZM522.88 778.45V748.0H524.28V778.45ZM529.51 778.45V744.1H530.91V778.45ZM539.46 778.45V739.1H540.86V778.45ZM542.78 778.45V746.9H544.18V778.45ZM546.09 778.45V735.2H547.49V778.45ZM559.36 778.45V755.4H560.76V778.45ZM562.68 778.45V740.8H564.08V778.45ZM569.31 778.45V723.5H570.71V778.45ZM572.63 778.45V730.1H574.03V778.45ZM575.94 778.45V674.0H577.34V778.45ZM585.89 778.45V708.7H587.29V778.45ZM592.53 778.45V690.4H593.93V778.45ZM595.85 778.45V698.6H597.25V778.45ZM615.75 778.45V737.8H617.15V778.45ZM619.06 778.45V728.7H620.46V778.45ZM622.38 778.45V736.7H623.78V778.45ZM625.70 778.45V746.4H627.10V778.45ZM629.01 778.45V746.4H630.41V778.45ZM642.28 778.45V749.8H643.68V778.45ZM645.60 778.45V744.9H647.00V778.45ZM648.91 778.45V718.8H650.31V778.45ZM652.23 778.45V742.2H653.63V778.45ZM655.55 778.45V750.3H656.95V778.45ZM658.86 778.45V742.2H660.26V778.45ZM665.50 778.45V737.3H666.90V778.45ZM678.77 778.45V745.4H680.17V778.45ZM682.08 778.45V758.6H683.48V778.45ZM685.40 778.45V752.5H686.80V778.45ZM688.72 778.45V744.7H690.12V778.45ZM692.03 778.45V742.2H693.43V778.45ZM698.67 778.45V744.4H700.07V778.45ZM708.62 778.45V726.4H710.02V778.45ZM711.93 778.45V744.9H713.33V778.45ZM715.25 778.45V746.4H716.65V778.45ZM721.88 778.45V748.8H723.28V778.45ZM725.20 778.45V749.8H726.60V778.45ZM728.52 778.45V756.5H729.92V778.45ZM731.83 778.45V736.3H733.23V778.45ZM738.47 778.45V756.6H739.87V778.45ZM741.78 778.45V756.5H743.18V778.45ZM745.10 778.45V732.4H746.50V778.45ZM751.73 778.45V739.3H753.13V778.45ZM755.05 778.45V702.4H756.45V778.45ZM758.37 778.45V748.3H759.77V778.45ZM768.32 778.45V726.2H769.72V778.45ZM778.27 778.45V695.0H779.67V778.45ZM781.59 778.45V726.3H782.99V778.45ZM788.22 778.45V723.0H789.62V778.45ZM794.85 778.45V696.4H796.25V778.45ZM798.17 778.45V734.2H799.57V778.45ZM808.12 778.45V734.5H809.52V778.45ZM811.44 778.45V730.7H812.84V778.45ZM818.07 778.45V741.4H819.47V778.45ZM828.02 778.45V752.6H829.42V778.45ZM831.34 778.45V754.3H832.74V778.45ZM834.65 778.45V753.7H836.05V778.45ZM841.29 778.45V751.5H842.69V778.45ZM847.92 778.45V756.8H849.32V778.45ZM851.24 778.45V757.2H852.64V778.45ZM854.56 778.45V755.7H855.96V778.45ZM857.87 778.45V742.5H859.27V778.45ZM864.51 778.45V744.4H865.91V778.45ZM867.82 778.45V750.3H869.22V778.45ZM871.14 778.45V744.4H872.54V778.45ZM877.77 778.45V755.7H879.17V778.45ZM887.72 778.45V750.3H889.12V778.45ZM891.04 778.45V766.4H892.44V778.45ZM894.36 778.45V747.1H895.76V778.45ZM900.99 778.45V757.4H902.39V778.45ZM910.94 778.45V739.1H912.34V778.45ZM917.57 778.45V748.0H918.97V778.45ZM924.21 778.45V747.4H925.61V778.45Z" fill="#aaaaaa" fill-opacity="0.38" stroke="#858585" stroke-width="0.52" stroke-opacity="1"/>
<path d="M95.01 778.45V688.8H96.41V778.45ZM98.33 778.45V724.4H99.73V778.45ZM104.96 778.45V751.3H106.36V778.45ZM114.91 778.45V748.3H116.31V778.45ZM118.23 778.45V753.2H119.63V778.45ZM128.18 778.45V746.9H129.58V778.45ZM134.81 778.45V747.1H136.21V778.45ZM138.13 778.45V757.1H139.53V778.45ZM141.44 778.45V756.6H142.84V778.45ZM144.76 778.45V754.5H146.16V778.45ZM158.03 778.45V750.6H159.43V778.45ZM164.66 778.45V757.6H166.06V778.45ZM174.61 778.45V755.7H176.01V778.45ZM184.56 778.45V736.6H185.96V778.45ZM187.88 778.45V729.3H189.28V778.45ZM194.51 778.45V750.8H195.91V778.45ZM204.46 778.45V743.0H205.86V778.45ZM207.78 778.45V757.6H209.18V778.45ZM221.05 778.45V761.5H222.45V778.45ZM224.36 778.45V760.1H225.76V778.45ZM227.68 778.45V732.2H229.08V778.45ZM231.00 778.45V746.9H232.40V778.45ZM240.95 778.45V738.1H242.35V778.45ZM250.90 778.45V740.0H252.30V778.45ZM254.21 778.45V747.9H255.61V778.45ZM257.53 778.45V754.7H258.93V778.45ZM264.17 778.45V751.3H265.57V778.45ZM277.43 778.45V758.6H278.83V778.45ZM287.38 778.45V757.1H288.78V778.45ZM297.33 778.45V747.4H298.73V778.45ZM310.60 778.45V758.6H312.00V778.45ZM317.23 778.45V764.0H318.63V778.45ZM320.55 778.45V757.6H321.95V778.45ZM327.18 778.45V764.5H328.58V778.45ZM333.82 778.45V709.8H335.22V778.45ZM337.13 778.45V739.1H338.53V778.45ZM350.40 778.45V742.2H351.80V778.45ZM357.04 778.45V751.3H358.44V778.45ZM360.35 778.45V756.1H361.75V778.45ZM370.30 778.45V757.6H371.70V778.45ZM376.94 778.45V759.1H378.34V778.45ZM383.57 778.45V746.9H384.97V778.45ZM393.52 778.45V723.4H394.92V778.45ZM396.84 778.45V747.4H398.24V778.45ZM400.15 778.45V759.6H401.55V778.45ZM406.79 778.45V744.4H408.19V778.45ZM413.42 778.45V750.8H414.82V778.45ZM430.01 778.45V757.4H431.41V778.45ZM433.32 778.45V761.3H434.72V778.45ZM439.96 778.45V746.9H441.36V778.45ZM463.17 778.45V760.1H464.57V778.45ZM466.49 778.45V748.0H467.89V778.45ZM476.44 778.45V755.2H477.84V778.45ZM486.39 778.45V755.7H487.79V778.45ZM496.34 778.45V749.3H497.74V778.45ZM499.66 778.45V710.2H501.06V778.45ZM502.97 778.45V766.4H504.37V778.45ZM506.29 778.45V742.2H507.69V778.45ZM516.24 778.45V751.3H517.64V778.45ZM526.19 778.45V748.0H527.59V778.45ZM532.83 778.45V753.2H534.23V778.45ZM536.14 778.45V742.0H537.54V778.45ZM549.41 778.45V748.8H550.81V778.45ZM552.73 778.45V749.6H554.13V778.45ZM556.04 778.45V755.0H557.44V778.45ZM565.99 778.45V753.2H567.39V778.45ZM579.26 778.45V700.1H580.66V778.45ZM582.58 778.45V732.3H583.98V778.45ZM589.21 778.45V715.3H590.61V778.45ZM599.16 778.45V711.4H600.56V778.45ZM602.48 778.45V704.3H603.88V778.45ZM605.80 778.45V704.1H607.20V778.45ZM609.11 778.45V728.5H610.51V778.45ZM612.43 778.45V730.1H613.83V778.45ZM632.33 778.45V725.6H633.73V778.45ZM635.65 778.45V734.0H637.05V778.45ZM638.96 778.45V747.4H640.36V778.45ZM662.18 778.45V729.3H663.58V778.45ZM668.81 778.45V753.2H670.21V778.45ZM672.13 778.45V753.2H673.53V778.45ZM675.45 778.45V747.4H676.85V778.45ZM695.35 778.45V728.3H696.75V778.45ZM701.98 778.45V750.3H703.38V778.45ZM705.30 778.45V713.2H706.70V778.45ZM718.57 778.45V750.8H719.97V778.45ZM735.15 778.45V751.0H736.55V778.45ZM748.42 778.45V753.2H749.82V778.45ZM761.69 778.45V729.3H763.09V778.45ZM765.00 778.45V731.7H766.40V778.45ZM771.64 778.45V748.8H773.04V778.45ZM774.95 778.45V742.8H776.35V778.45ZM784.90 778.45V740.3H786.30V778.45ZM791.54 778.45V729.0H792.94V778.45ZM801.49 778.45V734.0H802.89V778.45ZM804.80 778.45V733.1H806.20V778.45ZM814.75 778.45V741.4H816.15V778.45ZM821.39 778.45V753.5H822.79V778.45ZM824.70 778.45V749.3H826.10V778.45ZM837.97 778.45V714.2H839.37V778.45ZM844.61 778.45V749.3H846.01V778.45ZM861.19 778.45V748.3H862.59V778.45ZM874.46 778.45V753.2H875.86V778.45ZM881.09 778.45V760.1H882.49V778.45ZM884.41 778.45V760.1H885.81V778.45ZM897.67 778.45V759.1H899.07V778.45ZM904.31 778.45V750.3H905.71V778.45ZM907.62 778.45V757.1H909.02V778.45ZM914.26 778.45V755.5H915.66V778.45ZM920.89 778.45V756.5H922.29V778.45ZM927.53 778.45V754.2H928.93V778.45Z" fill="#cc6073" fill-opacity="0.38" stroke="#c43e58" stroke-width="0.52" stroke-opacity="1"/>
</g>
<line x1="58" y1="33.9" x2="76.4" y2="33.9" stroke="#dc143c" stroke-width="1.1"/>
<line x1="58" y1="51.2" x2="76.4" y2="51.2" stroke="#0000ff" stroke-width="1.1"/>
<text x="82.80" y="30.50" font-size="9.6" font-family="Liberation Sans, sans-serif" text-anchor="start" fill="#000" textLength="58.9" lengthAdjust="spacingAndGlyphs">Broker (None)</text>
<text x="82.80" y="40.70" font-size="9.6" font-family="Liberation Sans, sans-serif" text-anchor="start" fill="#000" textLength="57.1" lengthAdjust="spacingAndGlyphs">cash 4864.41</text>
<text x="82.80" y="55.00" font-size="9.6" font-family="Liberation Sans, sans-serif" text-anchor="start" fill="#000" textLength="71.6" lengthAdjust="spacingAndGlyphs">value 273372.83</text>
<text x="82.80" y="94.30" font-size="9.6" font-family="Liberation Sans, sans-serif" text-anchor="start" fill="#000" textLength="75.4" lengthAdjust="spacingAndGlyphs">DataTrades (True)</text>
<text x="82.80" y="104.40" font-size="9.6" font-family="Liberation Sans, sans-serif" text-anchor="start" fill="#000" textLength="22.1" lengthAdjust="spacingAndGlyphs">META</text>
<text x="82.80" y="117.90" font-size="9.6" font-family="Liberation Sans, sans-serif" text-anchor="start" fill="#000" textLength="20.6" lengthAdjust="spacingAndGlyphs">AAPL</text>
<path d="M60.3 158.3L64.3 154.4L68 156.0L73.8 151.5" fill="none" stroke="#000" stroke-width="1.9" stroke-linecap="square"/>
<rect x="58.8" y="166.7" width="17.9" height="5" fill="#aaaaaa" fill-opacity="0.5" stroke="#aaaaaa" stroke-opacity="0.6" stroke-width="0.5"/>
<rect x="65.3" y="165.2" width="5.3" height="6.5" fill="#cc6073" fill-opacity="0.45" stroke="#cc6073" stroke-width="0.6"/>
<text x="83.00" y="157.60" font-size="9.6" font-family="Liberation Sans, sans-serif" text-anchor="start" fill="#000" textLength="98.1" lengthAdjust="spacingAndGlyphs">META (1 Day) C:273.16</text>
<text x="83.00" y="170.90" font-size="9.6" font-family="Liberation Sans, sans-serif" text-anchor="start" fill="#000" textLength="30.2" lengthAdjust="spacingAndGlyphs">Volume</text>
<text x="83.00" y="184.10" font-size="9.6" font-family="Liberation Sans, sans-serif" text-anchor="start" fill="#000" textLength="88.8" lengthAdjust="spacingAndGlyphs">BuySell (True, 0.015)</text>
<text x="83.00" y="194.00" font-size="9.6" font-family="Liberation Sans, sans-serif" text-anchor="start" fill="#000" textLength="14.4" lengthAdjust="spacingAndGlyphs">buy</text>
<text x="83.70" y="207.50" font-size="9.6" font-family="Liberation Sans, sans-serif" text-anchor="start" fill="#000" textLength="12.8" lengthAdjust="spacingAndGlyphs">sell</text>
<path d="M60.3 475.7L64.3 471.8L68 473.4L73.8 468.9" fill="none" stroke="#000" stroke-width="1.9" stroke-linecap="square"/>
<rect x="58.8" y="484.1" width="17.9" height="5" fill="#aaaaaa" fill-opacity="0.5" stroke="#aaaaaa" stroke-opacity="0.6" stroke-width="0.5"/>
<rect x="65.3" y="482.6" width="5.3" height="6.5" fill="#cc6073" fill-opacity="0.45" stroke="#cc6073" stroke-width="0.6"/>
<text x="83.00" y="475.40" font-size="9.6" font-family="Liberation Sans, sans-serif" text-anchor="start" fill="#000" textLength="96.4" lengthAdjust="spacingAndGlyphs">AAPL (1 Day) C:132.69</text>
<text x="83.00" y="488.70" font-size="9.6" font-family="Liberation Sans, sans-serif" text-anchor="start" fill="#000" textLength="30.2" lengthAdjust="spacingAndGlyphs">Volume</text>
<text x="83.00" y="501.90" font-size="9.6" font-family="Liberation Sans, sans-serif" text-anchor="start" fill="#000" textLength="88.8" lengthAdjust="spacingAndGlyphs">BuySell (True, 0.015)</text>
<text x="83.00" y="511.80" font-size="9.6" font-family="Liberation Sans, sans-serif" text-anchor="start" fill="#000" textLength="14.4" lengthAdjust="spacingAndGlyphs">buy</text>
<text x="83.70" y="525.30" font-size="9.6" font-family="Liberation Sans, sans-serif" text-anchor="start" fill="#000" textLength="12.8" lengthAdjust="spacingAndGlyphs">sell</text>
<g clip-path="url(#c0)">
<line x1="195.50" y1="16.6" x2="195.50" y2="80.2" stroke="#b0b0b0" stroke-width="0.8"/>
<line x1="300.00" y1="16.6" x2="300.00" y2="80.2" stroke="#b0b0b0" stroke-width="0.8"/>
<line x1="405.50" y1="16.6" x2="405.50" y2="80.2" stroke="#b0b0b0" stroke-width="0.8"/>
<line x1="511.25" y1="16.6" x2="511.25" y2="80.2" stroke="#b0b0b0" stroke-width="0.8"/>
<line x1="612.50" y1="16.6" x2="612.50" y2="80.2" stroke="#b0b0b0" stroke-width="0.8"/>
<line x1="717.00" y1="16.6" x2="717.00" y2="80.2" stroke="#b0b0b0" stroke-width="0.8"/>
<line x1="823.50" y1="16.6" x2="823.50" y2="80.2" stroke="#b0b0b0" stroke-width="0.8"/>
<line x1="929.50" y1="16.6" x2="929.50" y2="80.2" stroke="#b0b0b0" stroke-width="0.8"/>
<line x1="51.6" y1="28.30" x2="973.2" y2="28.30" stroke="#b0b0b0" stroke-width="0.8" />
<line x1="51.6" y1="45.20" x2="973.2" y2="45.20" stroke="#b0b0b0" stroke-width="0.8" />
<line x1="51.6" y1="61.60" x2="973.2" y2="61.60" stroke="#b0b0b0" stroke-width="0.8" />
<line x1="51.6" y1="78.10" x2="973.2" y2="78.10" stroke="#b0b0b0" stroke-width="0.8" />
</g>
<g clip-path="url(#c1)">
<line x1="195.50" y1="80.2" x2="195.50" y2="143.5" stroke="#b0b0b0" stroke-width="0.8"/>
<line x1="300.00" y1="80.2" x2="300.00" y2="143.5" stroke="#b0b0b0" stroke-width="0.8"/>
<line x1="405.50" y1="80.2" x2="405.50" y2="143.5" stroke="#b0b0b0" stroke-width="0.8"/>
<line x1="511.25" y1="80.2" x2="511.25" y2="143.5" stroke="#b0b0b0" stroke-width="0.8"/>
<line x1="612.50" y1="80.2" x2="612.50" y2="143.5" stroke="#b0b0b0" stroke-width="0.8"/>
<line x1="717.00" y1="80.2" x2="717.00" y2="143.5" stroke="#b0b0b0" stroke-width="0.8"/>
<line x1="823.50" y1="80.2" x2="823.50" y2="143.5" stroke="#b0b0b0" stroke-width="0.8"/>
<line x1="929.50" y1="80.2" x2="929.50" y2="143.5" stroke="#b0b0b0" stroke-width="0.8"/>
<line x1="51.6" y1="91.10" x2="973.2" y2="91.10" stroke="#b0b0b0" stroke-width="0.8" />
<line x1="51.6" y1="133.50" x2="973.2" y2="133.50" stroke="#b0b0b0" stroke-width="0.8" />
</g>
<g clip-path="url(#c2)">
<line x1="195.50" y1="143.5" x2="195.50" y2="461.0" stroke="#b0b0b0" stroke-width="0.8"/>
<line x1="300.00" y1="143.5" x2="300.00" y2="461.0" stroke="#b0b0b0" stroke-width="0.8"/>
<line x1="405.50" y1="143.5" x2="405.50" y2="461.0" stroke="#b0b0b0" stroke-width="0.8"/>
<line x1="511.25" y1="143.5" x2="511.25" y2="461.0" stroke="#b0b0b0" stroke-width="0.8"/>
<line x1="612.50" y1="143.5" x2="612.50" y2="461.0" stroke="#b0b0b0" stroke-width="0.8"/>
<line x1="717.00" y1="143.5" x2="717.00" y2="461.0" stroke="#b0b0b0" stroke-width="0.8"/>
<line x1="823.50" y1="143.5" x2="823.50" y2="461.0" stroke="#b0b0b0" stroke-width="0.8"/>
<line x1="929.50" y1="143.5" x2="929.50" y2="461.0" stroke="#b0b0b0" stroke-width="0.8"/>
<line x1="51.6" y1="461.00" x2="973.2" y2="461.00" stroke="#b0b0b0" stroke-width="0.8" />
<line x1="51.6" y1="440.64" x2="973.2" y2="440.64" stroke="#b0b0b0" stroke-width="0.8" />
<line x1="51.6" y1="420.28" x2="973.2" y2="420.28" stroke="#b0b0b0" stroke-width="0.8" />
<line x1="51.6" y1="399.92" x2="973.2" y2="399.92" stroke="#b0b0b0" stroke-width="0.8" />
<line x1="51.6" y1="379.56" x2="973.2" y2="379.56" stroke="#b0b0b0" stroke-width="0.8" />
<line x1="51.6" y1="359.20" x2="973.2" y2="359.20" stroke="#b0b0b0" stroke-width="0.8" />
<line x1="51.6" y1="338.84" x2="973.2" y2="338.84" stroke="#b0b0b0" stroke-width="0.8" />
<line x1="51.6" y1="318.48" x2="973.2" y2="318.48" stroke="#b0b0b0" stroke-width="0.8" />
<line x1="51.6" y1="298.12" x2="973.2" y2="298.12" stroke="#b0b0b0" stroke-width="0.8" />
<line x1="51.6" y1="277.76" x2="973.2" y2="277.76" stroke="#b0b0b0" stroke-width="0.8" />
<line x1="51.6" y1="257.40" x2="973.2" y2="257.40" stroke="#b0b0b0" stroke-width="0.8" />
<line x1="51.6" y1="237.04" x2="973.2" y2="237.04" stroke="#b0b0b0" stroke-width="0.8" />
<line x1="51.6" y1="216.68" x2="973.2" y2="216.68" stroke="#b0b0b0" stroke-width="0.8" />
<line x1="51.6" y1="196.32" x2="973.2" y2="196.32" stroke="#b0b0b0" stroke-width="0.8" />
<line x1="51.6" y1="175.96" x2="973.2" y2="175.96" stroke="#b0b0b0" stroke-width="0.8" />
<line x1="51.6" y1="155.60" x2="973.2" y2="155.60" stroke="#b0b0b0" stroke-width="0.8" />
</g>
<g clip-path="url(#c3)">
<line x1="195.50" y1="461.0" x2="195.50" y2="778.45" stroke="#b0b0b0" stroke-width="0.8"/>
<line x1="300.00" y1="461.0" x2="300.00" y2="778.45" stroke="#b0b0b0" stroke-width="0.8"/>
<line x1="405.50" y1="461.0" x2="405.50" y2="778.45" stroke="#b0b0b0" stroke-width="0.8"/>
<line x1="511.25" y1="461.0" x2="511.25" y2="778.45" stroke="#b0b0b0" stroke-width="0.8"/>
<line x1="612.50" y1="461.0" x2="612.50" y2="778.45" stroke="#b0b0b0" stroke-width="0.8"/>
<line x1="717.00" y1="461.0" x2="717.00" y2="778.45" stroke="#b0b0b0" stroke-width="0.8"/>
<line x1="823.50" y1="461.0" x2="823.50" y2="778.45" stroke="#b0b0b0" stroke-width="0.8"/>
<line x1="929.50" y1="461.0" x2="929.50" y2="778.45" stroke="#b0b0b0" stroke-width="0.8"/>
<line x1="51.6" y1="778.45" x2="973.2" y2="778.45" stroke="#b0b0b0" stroke-width="0.8" />
<line x1="51.6" y1="758.77" x2="973.2" y2="758.77" stroke="#b0b0b0" stroke-width="0.8" />
<line x1="51.6" y1="739.09" x2="973.2" y2="739.09" stroke="#b0b0b0" stroke-width="0.8" />
<line x1="51.6" y1="719.41" x2="973.2" y2="719.41" stroke="#b0b0b0" stroke-width="0.8" />
<line x1="51.6" y1="699.73" x2="973.2" y2="699.73" stroke="#b0b0b0" stroke-width="0.8" />
<line x1="51.6" y1="680.05" x2="973.2" y2="680.05" stroke="#b0b0b0" stroke-width="0.8" />
<line x1="51.6" y1="660.37" x2="973.2" y2="660.37" stroke="#b0b0b0" stroke-width="0.8" />
<line x1="51.6" y1="640.69" x2="973.2" y2="640.69" stroke="#b0b0b0" stroke-width="0.8" />
<line x1="51.6" y1="621.01" x2="973.2" y2="621.01" stroke="#b0b0b0" stroke-width="0.8" />
<line x1="51.6" y1="601.33" x2="973.2" y2="601.33" stroke="#b0b0b0" stroke-width="0.8" />
<line x1="51.6" y1="581.65" x2="973.2" y2="581.65" stroke="#b0b0b0" stroke-width="0.8" />
<line x1="51.6" y1="561.97" x2="973.2" y2="561.97" stroke="#b0b0b0" stroke-width="0.8" />
<line x1="51.6" y1="542.29" x2="973.2" y2="542.29" stroke="#b0b0b0" stroke-width="0.8" />
<line x1="51.6" y1="522.61" x2="973.2" y2="522.61" stroke="#b0b0b0" stroke-width="0.8" />
<line x1="51.6" y1="502.93" x2="973.2" y2="502.93" stroke="#b0b0b0" stroke-width="0.8" />
<line x1="51.6" y1="483.25" x2="973.2" y2="483.25" stroke="#b0b0b0" stroke-width="0.8" />
<line x1="51.6" y1="463.57" x2="973.2" y2="463.57" stroke="#b0b0b0" stroke-width="0.8" />
</g>
<line x1="51.6" y1="112.30" x2="973.2" y2="112.30" stroke="#c0c0c0" stroke-width="0.8" stroke-dasharray="3.1 1.3"/>
<circle cx="67.9" cy="97.9" r="4.45" fill="#0000ff"/>
<path d="M63.3 110.9H72.5L67.9 119.3Z" fill="#008000"/>
<path d="M67.8 183.0L72.5 191.6H63.1Z" fill="#00ff00"/>
<path d="M63.1 200.7H72.5L67.8 209.1Z" fill="#ff0000"/>
<path d="M67.8 500.4L72.5 509.0H63.1Z" fill="#00ff00"/>
<path d="M63.1 518.1H72.5L67.8 526.5Z" fill="#ff0000"/>
<rect x="51.6" y="77.1" width="921.6" height="2.6" fill="#d6d6d6" clip-path="url(#c0)"/>
<path d="M95.7 446.4L100.2 455.2H91.2Z" fill="#00ff00"/>
<path d="M95.7 761.2L100.2 769.9H91.2Z" fill="#00ff00"/>
<polyline clip-path="url(#c0)" points="93.60,57.30 95.40,76.85 930.50,76.85" fill="none" stroke="#dc143c" stroke-width="1.75" stroke-linejoin="round" stroke-linecap="square"/>
<polyline clip-path="url(#c0)" points="93.71,57.34 95.86,56.86 97.81,56.17 99.77,55.59 101.72,55.20 103.67,55.20 105.62,55.59 107.58,55.59 109.53,55.20 111.48,54.90 113.44,54.41 115.39,55.20 117.34,55.59 119.30,55.59 121.25,54.90 123.20,55.88 124.67,55.39 126.13,53.63 128.09,52.66 130.04,52.66 131.99,52.27 133.95,52.66 135.90,53.24 137.85,53.44 139.80,53.24 141.76,53.24 143.71,53.24 145.66,53.05 147.62,52.85 149.57,52.85 151.52,53.05 153.48,53.24 155.43,53.05 157.38,53.24 159.34,53.05 161.29,52.46 163.24,52.27 165.20,52.46 167.15,52.66 169.10,52.27 171.05,51.68 173.01,51.48 174.96,51.68 176.91,52.07 178.87,52.27 180.82,51.88 182.77,51.29 184.73,51.48 186.68,51.88 188.63,51.68 191.86,51.74 194.79,51.25 197.72,50.66 201.62,50.27 205.53,49.88 209.44,50.08 213.34,49.88 217.25,49.49 220.18,48.91 223.11,48.52 226.04,48.71 227.99,48.91 229.95,48.52 233.36,48.12 235.80,48.91 238.73,49.30 241.18,49.79 243.13,51.25 245.57,50.08 248.01,50.08 250.45,51.05 252.89,50.66 255.34,51.25 258.27,51.45 261.20,51.25 264.12,51.64 266.27,53.20 268.52,52.23 270.96,51.74 273.89,50.86 275.84,50.47 278.29,50.76 280.73,50.47 283.17,49.59 285.61,49.30 288.84,49.10 291.77,48.91 293.23,49.59 296.65,49.30 299.58,48.81 302.51,48.32 305.93,48.91 309.34,48.32 313.25,47.64 317.16,48.12 321.06,48.52 323.99,47.64 326.92,47.83 329.85,48.12 332.78,48.12 335.22,48.12 337.18,49.30 339.13,50.66 341.57,49.69 344.01,48.91 346.45,49.30 348.89,48.61 350.85,50.08 353.29,49.30 356.22,48.71 360.12,48.81 362.27,50.27 365.01,49.69 367.94,49.30 369.89,48.91 372.33,49.49 374.77,48.52 377.21,48.61 379.66,48.52 381.61,47.93 382.39,47.73 385.32,48.32 388.25,48.12 391.18,47.73 394.11,48.12 397.04,48.91 399.00,48.32 401.44,49.10 403.88,48.52 406.81,49.30 409.74,48.32 413.16,48.52 416.57,47.73 419.99,46.95 423.41,46.76 426.83,46.37 428.78,46.17 430.73,47.15 433.66,46.37 436.59,45.98 440.01,46.37 442.45,45.20 444.89,44.80 448.31,45.20 452.22,45.00 456.12,44.41 459.05,44.41 461.98,43.83 464.91,44.22 467.84,44.22 470.77,43.83 473.70,43.44 476.14,44.02 477.80,44.41 478.39,45.05 480.84,44.47 483.28,43.69 485.72,43.88 488.16,43.49 490.60,44.08 493.53,43.30 496.95,42.71 500.37,42.52 503.30,42.32 505.74,41.73 508.67,41.93 511.60,41.15 514.04,40.95 516.97,40.56 519.90,39.78 522.83,39.20 524.78,39.78 527.22,39.39 530.15,38.80 533.08,39.00 536.01,39.20 538.45,40.17 541.19,38.41 543.34,39.98 545.29,41.34 548.22,39.78 551.15,39.39 554.08,39.59 556.03,39.98 557.98,39.39 560.91,39.20 563.84,39.00 566.29,39.59 568.24,40.95 570.19,42.52 572.14,43.10 573.80,43.69 574.39,44.47 575.86,44.47 577.62,42.52 579.28,43.49 581.23,42.52 583.18,43.49 585.62,46.03 587.58,44.66 589.34,46.03 591.00,48.38 592.66,45.64 594.41,49.74 596.37,48.77 598.81,49.35 600.76,50.52 602.42,50.91 604.18,48.57 606.13,48.38 607.60,47.59 609.55,48.57 611.80,47.59 613.95,48.77 615.90,49.16 617.66,48.96 619.32,47.20 622.25,46.03 625.18,45.64 627.62,44.66 630.55,44.86 633.48,44.86 635.62,46.03 637.87,44.86 640.80,43.88 642.75,44.08 644.41,44.47 646.66,42.32 649.10,42.52 652.03,41.54 654.96,40.95 658.38,39.98 661.80,41.15 665.21,40.37 668.63,39.39 670.88,38.32 673.81,37.93 676.74,38.52 680.16,38.91 683.09,37.73 685.53,37.93 687.48,38.32 690.41,36.95 692.56,35.59 693.83,35.78 695.49,37.73 697.74,36.95 700.67,35.78 703.60,35.59 706.04,35.20 708.48,34.22 710.14,35.20 711.90,35.00 713.66,37.15 715.80,35.98 718.25,35.00 720.20,34.80 722.15,34.02 724.59,33.44 727.52,33.05 730.45,33.44 733.38,33.05 736.31,33.05 738.75,32.46 741.68,33.24 744.12,35.20 746.57,34.41 749.01,34.80 751.94,33.83 753.70,29.14 755.84,28.75 758.29,28.75 760.24,26.80 762.68,27.38 764.63,28.16 765.12,28.66 767.86,26.70 771.28,26.70 774.70,26.31 776.65,24.95 778.60,23.58 781.04,22.80 783.29,20.45 784.95,21.62 786.90,21.43 788.86,19.67 790.52,18.89 792.08,20.06 793.45,22.80 795.20,23.97 796.67,26.31 798.33,25.34 800.57,26.90 802.53,26.51 804.68,25.73 806.43,27.29 808.39,28.85 810.34,29.44 812.78,28.27 815.22,29.83 817.18,28.66 819.62,27.09 822.06,26.70 824.50,26.12 826.45,27.29 828.41,26.31 830.36,27.29 832.31,26.70 834.46,26.12 836.41,23.19 838.66,23.97 841.10,24.75 844.52,26.51 847.45,24.95 850.87,24.95 854.29,24.75 856.24,26.90 857.90,25.53 859.66,28.27 861.61,28.27 863.37,27.09 865.03,24.36 866.98,23.19 868.74,24.55 870.70,25.73 872.65,24.55 875.09,24.36 877.53,23.97 879.97,24.75 882.41,24.95 884.37,25.53 886.32,26.51 888.27,25.53 891.20,24.95 893.16,23.77 894.91,22.41 897.06,22.99 899.02,23.38 900.97,22.41 902.92,22.99 904.88,23.58 906.83,23.58 908.98,23.97 910.93,22.21 913.18,22.02 915.62,22.21 917.57,22.02 919.52,21.43 921.96,21.62 924.21,19.87 925.87,20.65 928.31,20.84 930.27,20.84" fill="none" stroke="#0000ff" stroke-width="1.6" stroke-linejoin="round" stroke-linecap="square"/>
<polyline clip-path="url(#c2)" points="93.42,439.23 95.57,446.27 97.03,436.50 98.79,435.04 100.25,429.18 101.91,425.46 103.67,424.98 105.62,425.76 107.09,422.83 108.55,417.26 110.02,419.41 111.68,418.43 113.63,415.50 115.39,419.90 117.05,424.98 118.81,420.88 120.47,416.97 122.03,419.90 123.69,424.98 125.35,412.09 126.91,387.67 128.57,388.65 130.23,383.77 132.19,380.05 133.75,382.30 135.12,387.67 136.88,386.50 138.54,388.84 140.78,391.09 143.22,392.07 145.18,394.51 148.11,394.70 150.25,398.41 152.01,394.51 153.67,391.09 155.43,392.07 157.38,395.00 158.85,396.27 160.31,394.51 161.78,387.67 163.44,380.35 165.00,377.91 166.66,383.28 167.17,382.98 168.44,381.32 169.91,378.39 171.66,378.09 173.32,376.73 174.79,380.83 176.25,388.15 178.21,398.21 179.67,396.45 181.33,389.62 183.09,388.64 184.75,391.08 186.51,387.66 188.17,385.91 189.93,388.64 191.59,389.42 193.34,387.66 194.81,384.73 196.47,374.97 198.03,376.14 199.69,371.84 201.35,372.53 203.11,373.80 204.77,369.30 206.53,368.91 208.19,369.30 209.95,366.67 211.41,365.69 213.07,366.96 214.83,367.64 216.29,368.33 217.76,364.23 219.52,359.15 221.18,360.81 222.84,343.52 224.30,345.67 226.25,340.59 227.82,342.55 229.48,343.52 231.14,344.21 233.09,339.32 234.55,341.77 236.31,348.80 238.07,349.58 239.73,350.55 241.39,351.53 242.95,362.27 244.42,364.03 245.91,355.11 247.66,353.64 249.32,355.60 251.28,360.48 252.74,357.06 254.40,356.28 256.36,363.41 257.82,363.41 259.58,358.04 261.34,360.97 263.00,360.19 264.66,368.78 266.22,391.24 267.20,386.36 268.86,385.38 271.00,384.41 272.76,376.40 274.23,373.66 275.98,368.59 277.84,373.47 279.60,368.78 281.06,362.92 282.82,350.03 284.48,351.20 286.14,352.67 287.90,349.25 289.56,346.32 291.02,344.17 292.78,350.71 294.54,352.38 296.00,349.25 297.86,343.59 299.62,343.20 301.08,339.97 302.74,336.36 304.50,337.53 306.16,338.70 307.62,332.65 309.19,327.28 310.85,329.52 312.61,323.66 314.27,324.64 316.22,325.32 317.88,328.25 319.64,331.18 320.91,334.11 322.39,328.11 324.05,327.43 325.81,324.21 327.57,330.55 329.23,332.51 330.89,338.17 332.65,337.20 334.31,341.30 335.87,344.23 337.34,349.60 339.00,362.29 340.46,357.90 341.93,356.43 343.88,348.62 345.54,352.04 347.30,355.95 349.05,351.06 350.71,365.52 352.38,360.83 354.13,358.68 355.60,354.77 357.26,357.90 358.82,359.07 360.48,360.83 362.43,369.13 363.90,365.22 365.56,363.27 367.32,362.29 368.98,355.95 370.54,355.75 372.20,360.83 373.86,353.02 375.42,347.16 377.28,352.23 379.04,350.87 380.70,354.77 382.45,351.26 384.11,352.53 385.87,353.50 387.53,354.48 389.29,352.04 390.75,351.26 392.22,348.62 393.98,348.91 395.64,353.99 397.30,362.78 398.69,360.73 400.35,365.13 402.01,370.01 403.57,368.74 405.23,371.67 406.89,374.41 408.65,366.11 410.31,364.45 412.07,365.81 413.73,369.04 415.48,365.81 416.95,365.13 418.61,358.59 420.17,359.27 421.83,350.48 423.49,349.02 425.25,347.55 426.91,355.36 428.38,348.82 430.13,361.22 431.79,355.85 433.55,354.39 435.21,351.95 436.97,349.50 438.43,349.50 440.09,351.46 441.85,345.60 443.51,341.98 445.27,340.42 446.93,341.20 448.69,346.28 450.15,347.55 451.81,347.26 453.38,349.02 455.04,341.40 456.70,342.96 458.45,342.67 460.11,339.25 461.87,335.15 463.34,332.90 465.29,335.83 466.95,335.15 468.71,333.59 470.17,332.22 471.83,333.20 473.30,328.70 474.88,328.83 476.54,331.76 478.30,333.52 479.96,333.71 481.52,332.73 483.18,330.29 484.65,329.61 486.41,330.00 488.07,328.05 489.73,336.64 491.48,341.52 493.14,335.86 494.90,333.71 496.56,326.88 498.32,321.80 499.79,321.21 501.45,321.50 503.20,322.97 504.67,318.87 506.33,318.28 508.28,324.43 510.04,322.48 511.70,315.64 513.16,316.91 514.92,311.05 516.39,309.79 517.85,306.86 519.61,301.68 521.27,301.00 523.03,295.14 524.69,299.53 526.15,296.80 527.81,295.43 529.57,294.65 531.23,295.43 532.99,296.11 534.45,298.07 536.11,301.29 538.07,306.86 539.63,301.97 541.29,292.70 543.05,315.16 544.71,328.34 546.37,324.43 547.83,315.94 549.30,314.96 550.88,313.83 552.54,311.20 554.50,309.93 556.25,319.69 557.91,313.83 559.48,309.93 561.14,307.97 562.80,302.11 564.55,302.60 566.02,306.02 567.68,312.37 569.44,330.43 571.10,336.59 572.86,336.59 574.52,348.99 576.27,343.62 577.93,337.76 579.50,355.34 581.16,345.57 582.82,356.31 584.55,363.18 586.21,382.71 587.68,368.55 589.44,378.81 591.20,407.62 592.86,381.74 594.52,422.27 596.08,417.38 597.74,420.31 599.40,410.06 600.96,416.89 602.62,418.85 604.28,397.36 605.84,405.18 607.50,392.97 609.26,404.20 610.92,389.06 612.68,387.60 614.34,399.80 616.00,402.25 617.76,408.59 619.42,389.06 621.18,382.71 622.84,374.41 624.59,373.24 626.06,373.44 627.52,368.36 629.28,370.02 630.94,371.29 632.70,366.80 634.16,368.07 635.82,380.47 637.58,361.23 639.24,355.86 640.84,348.45 642.50,353.34 644.06,360.17 645.72,341.62 647.48,324.04 649.14,327.46 650.80,322.09 652.55,319.16 654.02,317.20 655.48,312.81 657.44,310.56 659.10,309.88 660.86,316.23 662.52,323.06 664.08,320.13 665.74,313.30 667.40,308.90 668.96,303.53 670.54,281.52 672.30,278.78 673.96,273.12 675.52,277.80 677.18,283.66 678.84,289.33 680.41,289.72 682.07,278.59 683.82,276.83 685.48,281.52 687.24,287.57 688.90,280.73 690.56,278.78 692.12,267.06 693.79,270.48 695.45,290.99 697.20,284.64 698.86,277.80 700.62,272.43 702.09,272.43 703.75,271.75 705.50,267.06 706.97,266.09 708.73,261.20 710.68,274.68 712.14,272.43 713.80,305.15 715.46,298.31 717.22,285.62 718.69,269.02 720.35,275.36 721.91,264.91 723.57,263.35 725.23,258.76 726.79,257.10 728.45,256.52 730.41,266.28 732.07,265.30 733.63,264.33 735.29,263.16 736.95,261.69 738.71,255.83 740.37,261.69 741.93,265.11 743.59,278.29 743.61,278.22 745.18,280.17 746.84,275.78 748.50,281.15 750.25,276.27 751.72,273.82 753.38,241.89 755.14,245.02 756.80,248.43 758.36,249.41 760.02,222.07 761.68,217.18 763.24,225.00 765.10,237.69 766.56,231.83 768.32,229.20 769.98,229.20 771.54,229.39 773.20,227.44 774.86,226.95 776.62,216.70 778.28,219.14 780.06,211.48 781.72,196.83 783.48,157.47 785.14,175.34 786.80,174.86 788.36,175.34 790.02,171.44 791.68,159.91 793.24,177.30 794.90,189.99 796.66,211.96 798.32,208.55 799.98,216.36 801.54,219.78 803.40,220.75 804.96,210.50 806.41,223.53 808.07,239.64 809.63,244.04 811.48,251.07 813.05,240.13 814.71,249.41 816.37,248.92 817.93,241.11 819.59,236.23 821.37,228.50 823.03,227.52 824.59,220.20 826.45,231.23 828.21,223.62 829.87,233.38 831.43,234.36 833.09,224.59 834.55,223.42 836.21,205.06 837.97,204.57 839.73,211.90 841.39,219.52 843.05,221.66 844.61,228.70 846.27,216.78 847.74,200.18 849.40,199.98 851.16,189.44 852.82,202.33 854.57,192.17 856.23,218.54 857.99,196.27 859.65,226.06 861.21,228.70 863.07,221.66 864.54,185.04 866.10,173.03 867.95,175.28 869.52,199.20 871.18,210.43 872.84,203.60 874.40,205.55 876.06,203.11 877.72,199.69 879.48,206.04 880.94,210.73 882.60,209.75 884.36,215.32 886.12,216.98 887.58,202.91 889.24,204.57 890.90,201.64 892.66,202.62 894.32,187.00 895.92,185.10 897.58,195.06 899.34,197.99 901.00,188.23 902.66,192.62 904.41,200.92 905.88,202.68 907.64,208.54 909.30,207.56 910.96,205.02 912.52,204.83 914.18,206.29 915.84,203.85 917.60,210.69 919.26,218.99 920.82,218.01 922.48,218.50 924.43,202.88 925.90,203.36 927.56,209.91 930.00,209.52" fill="none" stroke="#000" stroke-width="1.55" stroke-linejoin="round" stroke-linecap="square"/>
<polyline clip-path="url(#c3)" points="93.61,751.76 95.37,762.50 97.03,759.38 98.79,758.59 100.25,757.13 101.91,755.66 103.67,755.18 105.43,756.45 107.09,757.62 108.75,755.66 110.51,754.49 111.97,753.71 113.63,753.22 115.39,755.18 117.05,755.66 118.52,755.86 120.27,752.73 121.93,753.52 123.50,754.20 125.16,747.85 126.82,746.39 128.57,746.09 130.23,742.97 131.99,740.53 133.46,740.82 135.12,742.48 136.88,743.46 138.54,743.95 140.29,742.97 141.95,743.16 143.71,742.97 145.37,743.16 147.13,742.77 148.59,742.19 150.25,742.48 152.01,741.50 153.48,740.53 155.23,740.23 156.89,740.04 158.36,741.02 160.12,740.04 161.78,739.26 163.24,739.55 165.00,740.82 166.66,741.80 168.12,741.50 169.71,737.60 171.37,735.94 173.03,734.96 174.79,733.20 176.45,731.74 177.91,730.47 179.67,731.25 181.33,731.05 183.29,725.88 184.85,728.52 186.51,730.27 188.27,731.45 189.93,730.47 191.59,730.27 193.34,729.30 195.00,728.32 196.57,726.56 198.23,725.59 199.89,725.20 201.64,723.93 203.11,722.46 204.77,722.27 206.33,721.97 207.99,723.24 209.65,723.24 211.41,722.95 213.07,722.66 214.63,720.31 216.29,719.53 217.95,718.75 219.71,717.09 221.37,717.38 223.13,718.55 224.59,719.04 226.25,719.34 228.01,721.29 229.67,714.84 231.23,715.43 233.09,714.16 234.55,716.60 236.12,719.53 237.78,720.51 239.24,721.29 241.00,724.41 242.66,732.23 244.32,729.79 244.34,729.79 246.10,728.52 247.86,729.10 249.52,730.76 251.28,734.18 252.94,731.74 254.70,734.18 256.36,736.62 258.11,737.30 259.77,737.89 261.34,738.28 262.80,737.60 264.46,739.55 266.12,741.02 267.68,736.62 269.34,734.18 271.00,731.74 272.57,728.81 274.23,727.15 275.98,725.88 277.64,726.17 279.30,726.37 281.06,727.54 282.53,726.56 284.19,723.63 285.95,723.24 287.61,722.66 289.36,722.95 291.02,723.63 292.59,725.59 294.25,722.66 295.91,722.27 297.66,723.93 299.32,721.68 300.89,720.02 302.55,719.04 304.21,719.34 305.96,722.27 307.43,721.00 309.09,720.02 310.65,720.70 312.31,719.73 314.07,718.36 315.73,718.75 317.39,719.53 318.95,718.36 320.61,719.53 320.64,720.02 322.39,717.09 324.05,715.82 325.81,716.11 327.47,717.09 329.04,716.60 330.70,715.43 332.45,715.14 334.31,713.18 335.87,716.11 337.53,720.51 339.19,726.86 340.75,724.41 342.41,722.27 344.07,720.31 345.64,721.48 347.30,721.97 349.05,716.11 350.71,720.51 352.38,721.00 354.13,717.58 355.79,715.14 357.36,714.65 359.02,713.48 360.68,713.18 362.43,720.31 363.90,718.07 365.56,719.04 367.12,718.55 368.78,716.11 370.44,716.60 372.20,718.36 373.86,715.62 375.42,712.89 377.08,712.50 378.74,712.21 380.50,709.77 382.16,705.66 383.72,706.05 385.38,708.98 387.04,708.01 388.80,707.32 390.46,706.35 392.22,707.81 393.88,709.28 395.64,709.28 397.30,708.98 398.69,707.42 400.35,708.40 402.01,709.08 403.57,705.18 405.23,704.49 407.18,708.59 408.84,706.64 410.41,703.22 412.07,702.93 413.73,704.69 415.48,702.73 417.14,699.80 418.71,696.09 420.37,696.39 422.03,697.07 423.79,697.66 425.45,697.36 427.01,695.90 428.67,693.46 430.33,693.46 431.89,691.80 433.55,691.02 435.21,689.06 436.77,687.30 438.43,691.21 440.09,691.50 441.85,687.11 443.51,682.42 445.07,681.25 446.73,681.45 448.39,681.45 449.96,680.08 451.62,679.30 453.28,678.32 454.84,678.12 456.50,676.56 458.16,677.34 459.92,675.20 461.58,674.22 463.14,674.90 464.80,676.86 466.46,677.83 468.22,678.12 469.88,675.20 471.44,676.17 473.10,673.93 475.08,674.35 476.84,676.99 478.50,679.92 480.06,677.96 481.72,674.74 483.38,671.81 484.94,674.35 486.60,673.38 488.26,671.81 490.02,670.84 491.48,668.20 493.14,665.27 494.71,664.78 496.56,665.27 498.12,665.27 499.79,665.56 501.45,662.63 503.20,661.66 504.86,658.43 506.43,657.95 508.09,656.97 509.55,655.50 511.21,650.91 512.77,652.28 514.43,651.30 516.09,651.89 517.85,647.98 519.51,644.27 521.07,643.10 522.93,638.90 524.49,641.83 526.15,643.10 527.81,640.56 529.38,637.63 531.23,638.61 532.79,638.22 534.45,637.24 536.11,637.93 537.87,644.47 539.53,637.93 541.09,633.73 542.75,634.02 544.41,644.27 546.17,644.76 547.83,637.44 549.59,635.29 551.18,633.03 552.84,636.25 554.50,635.77 556.06,636.55 557.91,631.66 559.48,632.64 561.14,633.03 562.89,636.94 564.55,634.30 566.21,636.74 567.78,641.62 569.44,651.88 571.10,658.71 572.66,656.76 574.32,669.46 575.98,669.75 577.74,651.88 579.40,657.74 581.16,649.24 582.82,655.79 584.38,658.71 586.04,674.83 587.80,661.64 589.26,668.48 590.92,688.01 592.68,666.53 594.54,691.43 596.10,685.08 597.76,688.50 599.42,690.94 600.98,701.20 602.64,704.91 604.30,689.48 605.86,688.50 607.72,680.69 609.48,687.72 610.94,683.62 612.60,683.62 614.36,692.89 616.02,690.94 617.58,692.41 619.24,677.76 621.00,679.22 622.66,674.83 624.42,672.88 626.05,669.20 627.62,660.41 629.28,661.38 630.94,660.60 632.70,664.31 634.36,668.22 635.92,672.61 637.58,668.22 639.24,668.71 640.80,663.34 642.46,662.85 644.12,666.27 645.68,659.92 647.34,655.52 649.10,658.45 650.76,655.04 652.42,652.40 653.98,650.15 655.64,647.91 657.30,643.80 659.06,640.39 660.72,642.83 662.29,645.27 663.95,644.59 665.61,645.27 667.36,640.68 669.02,641.36 670.59,637.16 672.25,638.73 673.91,637.46 675.66,639.12 677.32,638.73 678.89,638.14 680.55,638.43 682.21,635.50 683.77,634.53 685.43,633.26 687.19,635.21 688.85,628.67 690.51,626.71 692.07,619.88 693.73,613.34 695.68,625.25 697.34,623.30 698.91,620.37 700.39,613.92 702.05,613.92 703.62,614.21 705.28,615.19 706.94,609.04 708.70,603.47 710.36,607.57 711.92,604.64 713.58,612.45 715.24,607.08 716.80,604.64 718.46,604.84 720.12,605.13 721.88,598.78 723.54,598.98 725.10,593.41 726.76,591.75 728.42,591.46 730.18,592.43 731.84,588.04 733.40,585.89 735.26,589.50 736.82,589.99 738.68,584.62 740.24,587.55 741.90,587.55 743.66,600.25 745.32,600.73 746.98,594.39 748.54,598.78 750.20,593.90 751.86,590.48 753.42,561.18 755.08,554.84 756.70,552.17 758.45,551.00 760.11,539.96 761.77,547.78 763.34,543.38 765.00,552.66 766.66,542.41 768.41,536.74 770.07,537.33 771.83,538.01 773.49,535.38 775.05,534.40 776.71,526.78 778.38,509.69 779.94,506.08 781.60,508.71 783.36,503.83 785.02,508.23 786.68,508.71 788.24,496.51 789.90,482.35 791.56,489.18 793.32,519.46 795.07,520.43 796.73,542.89 798.39,530.49 799.96,540.94 801.62,545.14 803.28,535.77 804.84,535.38 806.50,544.36 808.16,549.44 809.77,560.12 811.43,550.55 812.99,546.15 814.65,559.14 816.31,556.41 818.07,545.66 819.82,537.36 821.48,538.34 823.14,533.95 824.71,531.99 826.37,542.25 828.12,532.48 829.79,542.25 831.45,537.36 833.20,536.68 834.67,531.50 836.33,510.02 838.09,518.81 839.75,519.10 841.50,520.76 842.97,525.16 844.63,533.75 846.19,529.84 847.85,531.21 849.51,534.43 851.07,536.39 852.73,536.68 854.49,532.48 856.15,547.62 857.81,535.90 859.38,553.96 861.04,554.45 862.70,550.55 864.45,538.83 866.11,525.64 867.68,526.33 869.34,533.46 871.00,533.95 872.75,524.18 874.41,524.38 875.98,523.98 877.64,521.74 879.30,524.18 880.98,527.96 882.55,526.50 884.21,530.41 886.16,539.98 887.82,536.27 889.38,533.82 891.04,531.87 892.70,522.59 894.46,514.59 896.12,513.80 897.68,514.59 899.34,515.76 901.00,511.85 902.57,510.39 904.23,517.22 905.98,513.61 907.64,515.56 909.30,517.52 910.87,500.62 912.53,500.13 914.19,498.18 915.95,503.55 917.61,497.20 919.17,488.90 920.83,491.15 922.49,489.20 924.25,475.23 925.91,480.11 927.47,484.02 929.13,486.66 930.40,487.05" fill="none" stroke="#000" stroke-width="1.55" stroke-linejoin="round" stroke-linecap="square"/>
<line x1="51.6" y1="16.05" x2="51.6" y2="779.0" stroke="#363636" stroke-width="1.15"/>
<line x1="973.2" y1="16.05" x2="973.2" y2="779.0" stroke="#363636" stroke-width="1.15"/>
<line x1="51.6" y1="16.6" x2="973.2" y2="16.6" stroke="#363636" stroke-width="1.15"/>
<line x1="51.6" y1="80.2" x2="973.2" y2="80.2" stroke="#363636" stroke-width="1.15"/>
<line x1="51.6" y1="143.5" x2="973.2" y2="143.5" stroke="#363636" stroke-width="1.15"/>
<line x1="51.6" y1="778.45" x2="973.2" y2="778.45" stroke="#363636" stroke-width="1.15"/>
<line x1="51.6" y1="461.0" x2="973.2" y2="461.0" stroke="#646464" stroke-width="1.7"/>
<line x1="973.2" y1="28.30" x2="977.1" y2="28.30" stroke="#363636" stroke-width="1.0"/>
<text x="979.90" y="32.45" font-size="12.0" font-family="Liberation Sans, sans-serif" text-anchor="start" fill="#000" textLength="41.3" lengthAdjust="spacingAndGlyphs">240000</text>
<line x1="973.2" y1="45.20" x2="977.1" y2="45.20" stroke="#363636" stroke-width="1.0"/>
<text x="979.90" y="49.35" font-size="12.0" font-family="Liberation Sans, sans-serif" text-anchor="start" fill="#000" textLength="41.3" lengthAdjust="spacingAndGlyphs">160000</text>
<line x1="973.2" y1="61.60" x2="977.1" y2="61.60" stroke="#363636" stroke-width="1.0"/>
<text x="979.90" y="65.75" font-size="12.0" font-family="Liberation Sans, sans-serif" text-anchor="start" fill="#000" textLength="34.4" lengthAdjust="spacingAndGlyphs">80000</text>
<line x1="973.2" y1="78.10" x2="977.1" y2="78.10" stroke="#363636" stroke-width="1.0"/>
<text x="979.90" y="82.25" font-size="12.0" font-family="Liberation Sans, sans-serif" text-anchor="start" fill="#000" textLength="6.9" lengthAdjust="spacingAndGlyphs">0</text>
<line x1="973.2" y1="91.10" x2="977.1" y2="91.10" stroke="#363636" stroke-width="1.0"/>
<text x="979.90" y="95.25" font-size="12.0" font-family="Liberation Sans, sans-serif" text-anchor="start" fill="#000" textLength="24.1" lengthAdjust="spacingAndGlyphs">0.04</text>
<line x1="973.2" y1="112.30" x2="977.1" y2="112.30" stroke="#363636" stroke-width="1.0"/>
<text x="979.90" y="116.45" font-size="12.0" font-family="Liberation Sans, sans-serif" text-anchor="start" fill="#000" textLength="24.1" lengthAdjust="spacingAndGlyphs">0.00</text>
<line x1="973.2" y1="133.50" x2="977.1" y2="133.50" stroke="#363636" stroke-width="1.0"/>
<text x="979.90" y="137.65" font-size="12.0" font-family="Liberation Sans, sans-serif" text-anchor="start" fill="#000" textLength="32.9" lengthAdjust="spacingAndGlyphs">−0.04</text>
<line x1="973.2" y1="164.40" x2="977.1" y2="164.40" stroke="#363636" stroke-width="1.0"/>
<text x="979.90" y="168.55" font-size="12.0" font-family="Liberation Sans, sans-serif" text-anchor="start" fill="#000" textLength="20.6" lengthAdjust="spacingAndGlyphs">300</text>
<line x1="973.2" y1="198.00" x2="977.1" y2="198.00" stroke="#363636" stroke-width="1.0"/>
<text x="979.90" y="202.15" font-size="12.0" font-family="Liberation Sans, sans-serif" text-anchor="start" fill="#000" textLength="20.6" lengthAdjust="spacingAndGlyphs">280</text>
<line x1="973.2" y1="231.60" x2="977.1" y2="231.60" stroke="#363636" stroke-width="1.0"/>
<text x="979.90" y="235.75" font-size="12.0" font-family="Liberation Sans, sans-serif" text-anchor="start" fill="#000" textLength="20.6" lengthAdjust="spacingAndGlyphs">260</text>
<line x1="973.2" y1="265.20" x2="977.1" y2="265.20" stroke="#363636" stroke-width="1.0"/>
<text x="979.90" y="269.35" font-size="12.0" font-family="Liberation Sans, sans-serif" text-anchor="start" fill="#000" textLength="20.6" lengthAdjust="spacingAndGlyphs">240</text>
<line x1="973.2" y1="298.80" x2="977.1" y2="298.80" stroke="#363636" stroke-width="1.0"/>
<text x="979.90" y="302.95" font-size="12.0" font-family="Liberation Sans, sans-serif" text-anchor="start" fill="#000" textLength="20.6" lengthAdjust="spacingAndGlyphs">220</text>
<line x1="973.2" y1="332.40" x2="977.1" y2="332.40" stroke="#363636" stroke-width="1.0"/>
<text x="979.90" y="336.55" font-size="12.0" font-family="Liberation Sans, sans-serif" text-anchor="start" fill="#000" textLength="20.6" lengthAdjust="spacingAndGlyphs">200</text>
<line x1="973.2" y1="366.00" x2="977.1" y2="366.00" stroke="#363636" stroke-width="1.0"/>
<text x="979.90" y="370.15" font-size="12.0" font-family="Liberation Sans, sans-serif" text-anchor="start" fill="#000" textLength="20.6" lengthAdjust="spacingAndGlyphs">180</text>
<line x1="973.2" y1="399.60" x2="977.1" y2="399.60" stroke="#363636" stroke-width="1.0"/>
<text x="979.90" y="403.75" font-size="12.0" font-family="Liberation Sans, sans-serif" text-anchor="start" fill="#000" textLength="20.6" lengthAdjust="spacingAndGlyphs">160</text>
<line x1="973.2" y1="433.20" x2="977.1" y2="433.20" stroke="#363636" stroke-width="1.0"/>
<text x="979.90" y="437.35" font-size="12.0" font-family="Liberation Sans, sans-serif" text-anchor="start" fill="#000" textLength="20.6" lengthAdjust="spacingAndGlyphs">140</text>
<line x1="973.2" y1="480.40" x2="977.1" y2="480.40" stroke="#363636" stroke-width="1.0"/>
<text x="979.90" y="484.55" font-size="12.0" font-family="Liberation Sans, sans-serif" text-anchor="start" fill="#000" textLength="20.6" lengthAdjust="spacingAndGlyphs">135</text>
<line x1="973.2" y1="523.20" x2="977.1" y2="523.20" stroke="#363636" stroke-width="1.0"/>
<text x="979.90" y="527.35" font-size="12.0" font-family="Liberation Sans, sans-serif" text-anchor="start" fill="#000" textLength="20.6" lengthAdjust="spacingAndGlyphs">120</text>
<line x1="973.2" y1="566.00" x2="977.1" y2="566.00" stroke="#363636" stroke-width="1.0"/>
<text x="979.90" y="570.15" font-size="12.0" font-family="Liberation Sans, sans-serif" text-anchor="start" fill="#000" textLength="20.6" lengthAdjust="spacingAndGlyphs">105</text>
<line x1="973.2" y1="608.80" x2="977.1" y2="608.80" stroke="#363636" stroke-width="1.0"/>
<text x="979.90" y="612.95" font-size="12.0" font-family="Liberation Sans, sans-serif" text-anchor="start" fill="#000" textLength="13.8" lengthAdjust="spacingAndGlyphs">90</text>
<line x1="973.2" y1="651.60" x2="977.1" y2="651.60" stroke="#363636" stroke-width="1.0"/>
<text x="979.90" y="655.75" font-size="12.0" font-family="Liberation Sans, sans-serif" text-anchor="start" fill="#000" textLength="13.8" lengthAdjust="spacingAndGlyphs">75</text>
<line x1="973.2" y1="694.40" x2="977.1" y2="694.40" stroke="#363636" stroke-width="1.0"/>
<text x="979.90" y="698.55" font-size="12.0" font-family="Liberation Sans, sans-serif" text-anchor="start" fill="#000" textLength="13.8" lengthAdjust="spacingAndGlyphs">60</text>
<line x1="973.2" y1="737.20" x2="977.1" y2="737.20" stroke="#363636" stroke-width="1.0"/>
<text x="979.90" y="741.35" font-size="12.0" font-family="Liberation Sans, sans-serif" text-anchor="start" fill="#000" textLength="13.8" lengthAdjust="spacingAndGlyphs">45</text>
<line x1="47.7" y1="461.00" x2="51.6" y2="461.00" stroke="#363636" stroke-width="1.0"/>
<text x="43.90" y="465.15" font-size="12.0" font-family="Liberation Sans, sans-serif" text-anchor="end" fill="#000" textLength="16.0" lengthAdjust="spacingAndGlyphs">0M</text>
<line x1="47.7" y1="440.64" x2="51.6" y2="440.64" stroke="#363636" stroke-width="1.0"/>
<text x="43.90" y="444.79" font-size="12.0" font-family="Liberation Sans, sans-serif" text-anchor="end" fill="#000" textLength="22.9" lengthAdjust="spacingAndGlyphs">15M</text>
<line x1="47.7" y1="420.28" x2="51.6" y2="420.28" stroke="#363636" stroke-width="1.0"/>
<text x="43.90" y="424.43" font-size="12.0" font-family="Liberation Sans, sans-serif" text-anchor="end" fill="#000" textLength="22.9" lengthAdjust="spacingAndGlyphs">30M</text>
<line x1="47.7" y1="399.92" x2="51.6" y2="399.92" stroke="#363636" stroke-width="1.0"/>
<text x="43.90" y="404.07" font-size="12.0" font-family="Liberation Sans, sans-serif" text-anchor="end" fill="#000" textLength="22.9" lengthAdjust="spacingAndGlyphs">45M</text>
<line x1="47.7" y1="379.56" x2="51.6" y2="379.56" stroke="#363636" stroke-width="1.0"/>
<text x="43.90" y="383.71" font-size="12.0" font-family="Liberation Sans, sans-serif" text-anchor="end" fill="#000" textLength="22.9" lengthAdjust="spacingAndGlyphs">60M</text>
<line x1="47.7" y1="359.20" x2="51.6" y2="359.20" stroke="#363636" stroke-width="1.0"/>
<text x="43.90" y="363.35" font-size="12.0" font-family="Liberation Sans, sans-serif" text-anchor="end" fill="#000" textLength="22.9" lengthAdjust="spacingAndGlyphs">75M</text>
<line x1="47.7" y1="338.84" x2="51.6" y2="338.84" stroke="#363636" stroke-width="1.0"/>
<text x="43.90" y="342.99" font-size="12.0" font-family="Liberation Sans, sans-serif" text-anchor="end" fill="#000" textLength="22.9" lengthAdjust="spacingAndGlyphs">90M</text>
<line x1="47.7" y1="318.48" x2="51.6" y2="318.48" stroke="#363636" stroke-width="1.0"/>
<line x1="47.7" y1="298.12" x2="51.6" y2="298.12" stroke="#363636" stroke-width="1.0"/>
<line x1="47.7" y1="277.76" x2="51.6" y2="277.76" stroke="#363636" stroke-width="1.0"/>
<line x1="47.7" y1="257.40" x2="51.6" y2="257.40" stroke="#363636" stroke-width="1.0"/>
<line x1="47.7" y1="237.04" x2="51.6" y2="237.04" stroke="#363636" stroke-width="1.0"/>
<line x1="47.7" y1="216.68" x2="51.6" y2="216.68" stroke="#363636" stroke-width="1.0"/>
<line x1="47.7" y1="196.32" x2="51.6" y2="196.32" stroke="#363636" stroke-width="1.0"/>
<line x1="47.7" y1="175.96" x2="51.6" y2="175.96" stroke="#363636" stroke-width="1.0"/>
<line x1="47.7" y1="155.60" x2="51.6" y2="155.60" stroke="#363636" stroke-width="1.0"/>
<line x1="47.7" y1="778.45" x2="51.6" y2="778.45" stroke="#363636" stroke-width="1.0"/>
<text x="43.90" y="782.60" font-size="12.0" font-family="Liberation Sans, sans-serif" text-anchor="end" fill="#000" textLength="16.0" lengthAdjust="spacingAndGlyphs">0M</text>
<line x1="47.7" y1="758.77" x2="51.6" y2="758.77" stroke="#363636" stroke-width="1.0"/>
<text x="43.90" y="762.92" font-size="12.0" font-family="Liberation Sans, sans-serif" text-anchor="end" fill="#000" textLength="22.9" lengthAdjust="spacingAndGlyphs">80M</text>
<line x1="47.7" y1="739.09" x2="51.6" y2="739.09" stroke="#363636" stroke-width="1.0"/>
<text x="43.90" y="743.24" font-size="12.0" font-family="Liberation Sans, sans-serif" text-anchor="end" fill="#000" textLength="29.7" lengthAdjust="spacingAndGlyphs">160M</text>
<line x1="47.7" y1="719.41" x2="51.6" y2="719.41" stroke="#363636" stroke-width="1.0"/>
<text x="43.90" y="723.56" font-size="12.0" font-family="Liberation Sans, sans-serif" text-anchor="end" fill="#000" textLength="29.7" lengthAdjust="spacingAndGlyphs">240M</text>
<line x1="47.7" y1="699.73" x2="51.6" y2="699.73" stroke="#363636" stroke-width="1.0"/>
<text x="43.90" y="703.88" font-size="12.0" font-family="Liberation Sans, sans-serif" text-anchor="end" fill="#000" textLength="29.7" lengthAdjust="spacingAndGlyphs">320M</text>
<line x1="47.7" y1="680.05" x2="51.6" y2="680.05" stroke="#363636" stroke-width="1.0"/>
<text x="43.90" y="684.20" font-size="12.0" font-family="Liberation Sans, sans-serif" text-anchor="end" fill="#000" textLength="29.7" lengthAdjust="spacingAndGlyphs">400M</text>
<line x1="47.7" y1="660.37" x2="51.6" y2="660.37" stroke="#363636" stroke-width="1.0"/>
<text x="43.90" y="664.52" font-size="12.0" font-family="Liberation Sans, sans-serif" text-anchor="end" fill="#000" textLength="29.7" lengthAdjust="spacingAndGlyphs">480M</text>
<line x1="47.7" y1="640.69" x2="51.6" y2="640.69" stroke="#363636" stroke-width="1.0"/>
<line x1="47.7" y1="621.01" x2="51.6" y2="621.01" stroke="#363636" stroke-width="1.0"/>
<line x1="47.7" y1="601.33" x2="51.6" y2="601.33" stroke="#363636" stroke-width="1.0"/>
<line x1="47.7" y1="581.65" x2="51.6" y2="581.65" stroke="#363636" stroke-width="1.0"/>
<line x1="47.7" y1="561.97" x2="51.6" y2="561.97" stroke="#363636" stroke-width="1.0"/>
<line x1="47.7" y1="542.29" x2="51.6" y2="542.29" stroke="#363636" stroke-width="1.0"/>
<line x1="47.7" y1="522.61" x2="51.6" y2="522.61" stroke="#363636" stroke-width="1.0"/>
<line x1="47.7" y1="502.93" x2="51.6" y2="502.93" stroke="#363636" stroke-width="1.0"/>
<line x1="47.7" y1="483.25" x2="51.6" y2="483.25" stroke="#363636" stroke-width="1.0"/>
<line x1="47.7" y1="463.57" x2="51.6" y2="463.57" stroke="#363636" stroke-width="1.0"/>
<line x1="195.5" y1="778.45" x2="195.5" y2="782.35" stroke="#363636" stroke-width="1.0"/>
<line x1="300" y1="778.45" x2="300" y2="782.35" stroke="#363636" stroke-width="1.0"/>
<line x1="405.5" y1="778.45" x2="405.5" y2="782.35" stroke="#363636" stroke-width="1.0"/>
<line x1="511.25" y1="778.45" x2="511.25" y2="782.35" stroke="#363636" stroke-width="1.0"/>
<line x1="612.5" y1="778.45" x2="612.5" y2="782.35" stroke="#363636" stroke-width="1.0"/>
<line x1="717" y1="778.45" x2="717" y2="782.35" stroke="#363636" stroke-width="1.0"/>
<line x1="823.5" y1="778.45" x2="823.5" y2="782.35" stroke="#363636" stroke-width="1.0"/>
<line x1="929.5" y1="778.45" x2="929.5" y2="782.35" stroke="#363636" stroke-width="1.0"/>
<clipPath id="ctag"><rect x="900" y="0" width="124" height="80.2"/></clipPath>
<g>
<path d="M929.7 15.2H977.6Q978.2 15.2 978.2 15.8V26.5Q978.2 27.1 977.6 27.1H929.7L928.1 21.1Z" fill="#fff" stroke="#0000ff" stroke-width="1.0" stroke-linejoin="round"/>
<text x="932.20" y="23.85" font-size="9.6" font-family="Liberation Sans, sans-serif" text-anchor="start" fill="#000" textLength="44.4" lengthAdjust="spacingAndGlyphs">273372.83</text>
</g>
<g clip-path="url(#ctag)">
<path d="M929.4 70.2H967.0Q967.6 70.2 967.6 70.8V81.6Q967.6 82.2 967.0 82.2H929.4L927.8 76.2Z" fill="#fff" stroke="#dc143c" stroke-width="1.0" stroke-linejoin="round"/>
<text x="931.90" y="78.90" font-size="9.6" font-family="Liberation Sans, sans-serif" text-anchor="start" fill="#000" textLength="33.6" lengthAdjust="spacingAndGlyphs">4864.41</text>
</g>
<g>
<path d="M929.7 203.1H961.6Q962.2 203.1 962.2 203.7V214.7Q962.2 215.2 961.6 215.2H929.7L928.1 209.2Z" fill="#fff" stroke="#3a3a3a" stroke-width="0.9" stroke-linejoin="round"/>
<text x="932.20" y="211.85" font-size="9.6" font-family="Liberation Sans, sans-serif" text-anchor="start" fill="#000" textLength="28.6" lengthAdjust="spacingAndGlyphs">273.16</text>
</g>
<g>
<path d="M929.7 480.5H961.6Q962.2 480.5 962.2 481.1V492.1Q962.2 492.7 961.6 492.7H929.7L928.1 486.6Z" fill="#fff" stroke="#3a3a3a" stroke-width="0.9" stroke-linejoin="round"/>
<text x="932.20" y="489.30" font-size="9.6" font-family="Liberation Sans, sans-serif" text-anchor="start" fill="#000" textLength="28.6" lengthAdjust="spacingAndGlyphs">132.69</text>
</g>
</svg>
</body></html>
